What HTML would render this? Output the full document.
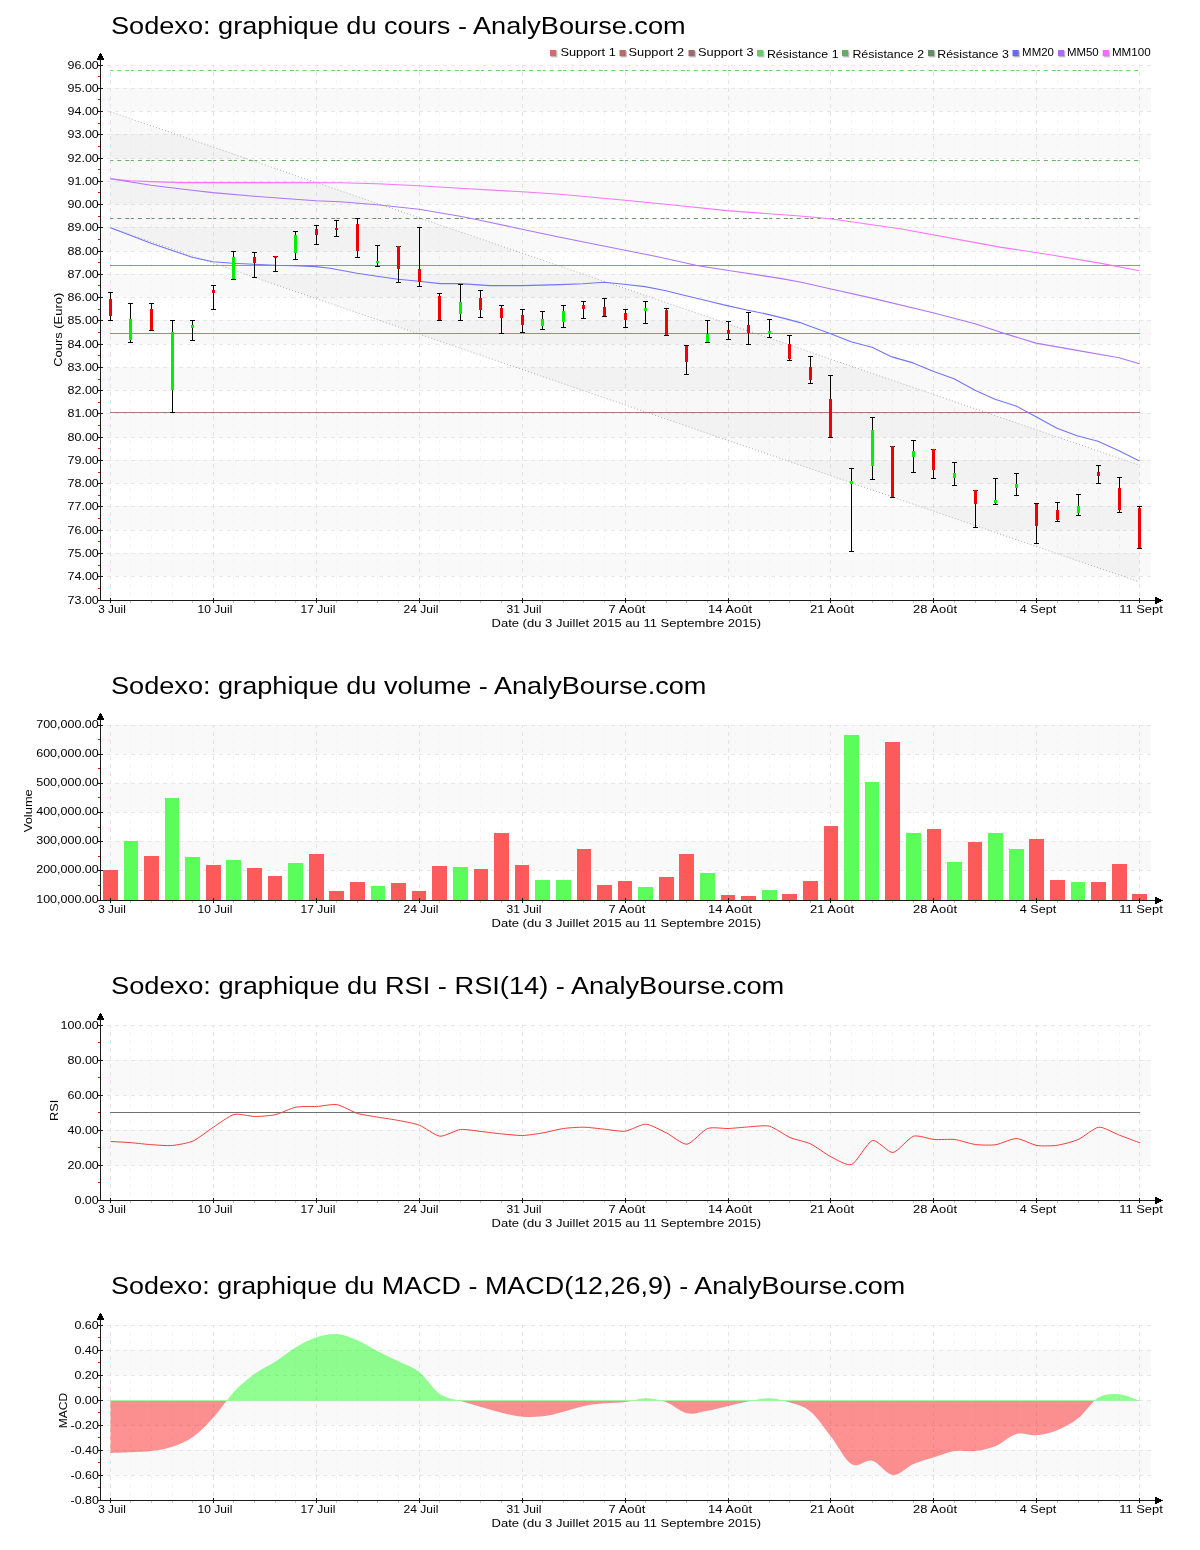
<!DOCTYPE html>
<html lang="fr"><head><meta charset="utf-8"><title>Sodexo - AnalyBourse.com</title>
<style>
html,body{margin:0;padding:0;background:#fff;}
body{width:1200px;height:1550px;overflow:hidden;font-family:"Liberation Sans",sans-serif;}
svg{display:block;will-change:transform;font-family:"Liberation Sans",sans-serif;}
</style></head><body>
<svg width="1200" height="1550" viewBox="0 0 1200 1550">
<rect x="0" y="0" width="1200" height="1550" fill="#fff"/>
<rect x="101" y="88" width="1050" height="23" fill="#f9f9f9"/>
<rect x="101" y="134" width="1050" height="24" fill="#f9f9f9"/>
<rect x="101" y="181" width="1050" height="23" fill="#f9f9f9"/>
<rect x="101" y="227" width="1050" height="24" fill="#f9f9f9"/>
<rect x="101" y="274" width="1050" height="23" fill="#f9f9f9"/>
<rect x="101" y="320" width="1050" height="24" fill="#f9f9f9"/>
<rect x="101" y="367" width="1050" height="23" fill="#f9f9f9"/>
<rect x="101" y="413" width="1050" height="24" fill="#f9f9f9"/>
<rect x="101" y="460" width="1050" height="23" fill="#f9f9f9"/>
<rect x="101" y="506" width="1050" height="24" fill="#f9f9f9"/>
<rect x="101" y="553" width="1050" height="23" fill="#f9f9f9"/>
<line x1="100" x2="1151" y1="65.5" y2="65.5" stroke="#e7e7e7" stroke-dasharray="4 4" stroke-dashoffset="1" shape-rendering="crispEdges"/>
<line x1="100" x2="1151" y1="88.5" y2="88.5" stroke="#e7e7e7" stroke-dasharray="4 4" stroke-dashoffset="1" shape-rendering="crispEdges"/>
<line x1="100" x2="1151" y1="111.5" y2="111.5" stroke="#e7e7e7" stroke-dasharray="4 4" stroke-dashoffset="1" shape-rendering="crispEdges"/>
<line x1="100" x2="1151" y1="134.5" y2="134.5" stroke="#e7e7e7" stroke-dasharray="4 4" stroke-dashoffset="1" shape-rendering="crispEdges"/>
<line x1="100" x2="1151" y1="158.5" y2="158.5" stroke="#e7e7e7" stroke-dasharray="4 4" stroke-dashoffset="1" shape-rendering="crispEdges"/>
<line x1="100" x2="1151" y1="181.5" y2="181.5" stroke="#e7e7e7" stroke-dasharray="4 4" stroke-dashoffset="1" shape-rendering="crispEdges"/>
<line x1="100" x2="1151" y1="204.5" y2="204.5" stroke="#e7e7e7" stroke-dasharray="4 4" stroke-dashoffset="1" shape-rendering="crispEdges"/>
<line x1="100" x2="1151" y1="227.5" y2="227.5" stroke="#e7e7e7" stroke-dasharray="4 4" stroke-dashoffset="1" shape-rendering="crispEdges"/>
<line x1="100" x2="1151" y1="251.5" y2="251.5" stroke="#e7e7e7" stroke-dasharray="4 4" stroke-dashoffset="1" shape-rendering="crispEdges"/>
<line x1="100" x2="1151" y1="274.5" y2="274.5" stroke="#e7e7e7" stroke-dasharray="4 4" stroke-dashoffset="1" shape-rendering="crispEdges"/>
<line x1="100" x2="1151" y1="297.5" y2="297.5" stroke="#e7e7e7" stroke-dasharray="4 4" stroke-dashoffset="1" shape-rendering="crispEdges"/>
<line x1="100" x2="1151" y1="320.5" y2="320.5" stroke="#e7e7e7" stroke-dasharray="4 4" stroke-dashoffset="1" shape-rendering="crispEdges"/>
<line x1="100" x2="1151" y1="344.5" y2="344.5" stroke="#e7e7e7" stroke-dasharray="4 4" stroke-dashoffset="1" shape-rendering="crispEdges"/>
<line x1="100" x2="1151" y1="367.5" y2="367.5" stroke="#e7e7e7" stroke-dasharray="4 4" stroke-dashoffset="1" shape-rendering="crispEdges"/>
<line x1="100" x2="1151" y1="390.5" y2="390.5" stroke="#e7e7e7" stroke-dasharray="4 4" stroke-dashoffset="1" shape-rendering="crispEdges"/>
<line x1="100" x2="1151" y1="413.5" y2="413.5" stroke="#e7e7e7" stroke-dasharray="4 4" stroke-dashoffset="1" shape-rendering="crispEdges"/>
<line x1="100" x2="1151" y1="437.5" y2="437.5" stroke="#e7e7e7" stroke-dasharray="4 4" stroke-dashoffset="1" shape-rendering="crispEdges"/>
<line x1="100" x2="1151" y1="460.5" y2="460.5" stroke="#e7e7e7" stroke-dasharray="4 4" stroke-dashoffset="1" shape-rendering="crispEdges"/>
<line x1="100" x2="1151" y1="483.5" y2="483.5" stroke="#e7e7e7" stroke-dasharray="4 4" stroke-dashoffset="1" shape-rendering="crispEdges"/>
<line x1="100" x2="1151" y1="506.5" y2="506.5" stroke="#e7e7e7" stroke-dasharray="4 4" stroke-dashoffset="1" shape-rendering="crispEdges"/>
<line x1="100" x2="1151" y1="530.5" y2="530.5" stroke="#e7e7e7" stroke-dasharray="4 4" stroke-dashoffset="1" shape-rendering="crispEdges"/>
<line x1="100" x2="1151" y1="553.5" y2="553.5" stroke="#e7e7e7" stroke-dasharray="4 4" stroke-dashoffset="1" shape-rendering="crispEdges"/>
<line x1="100" x2="1151" y1="576.5" y2="576.5" stroke="#e7e7e7" stroke-dasharray="4 4" stroke-dashoffset="1" shape-rendering="crispEdges"/>
<line x1="110.5" x2="110.5" y1="65" y2="600" stroke="#e4e4e4" stroke-dasharray="4 4" stroke-dashoffset="1" shape-rendering="crispEdges"/>
<line x1="130.5" x2="130.5" y1="65" y2="600" stroke="#f5f5f5" stroke-dasharray="4 4" stroke-dashoffset="1" shape-rendering="crispEdges"/>
<line x1="151.5" x2="151.5" y1="65" y2="600" stroke="#f5f5f5" stroke-dasharray="4 4" stroke-dashoffset="1" shape-rendering="crispEdges"/>
<line x1="172.5" x2="172.5" y1="65" y2="600" stroke="#f5f5f5" stroke-dasharray="4 4" stroke-dashoffset="1" shape-rendering="crispEdges"/>
<line x1="192.5" x2="192.5" y1="65" y2="600" stroke="#f5f5f5" stroke-dasharray="4 4" stroke-dashoffset="1" shape-rendering="crispEdges"/>
<line x1="213.5" x2="213.5" y1="65" y2="600" stroke="#e4e4e4" stroke-dasharray="4 4" stroke-dashoffset="1" shape-rendering="crispEdges"/>
<line x1="233.5" x2="233.5" y1="65" y2="600" stroke="#f5f5f5" stroke-dasharray="4 4" stroke-dashoffset="1" shape-rendering="crispEdges"/>
<line x1="254.5" x2="254.5" y1="65" y2="600" stroke="#f5f5f5" stroke-dasharray="4 4" stroke-dashoffset="1" shape-rendering="crispEdges"/>
<line x1="275.5" x2="275.5" y1="65" y2="600" stroke="#f5f5f5" stroke-dasharray="4 4" stroke-dashoffset="1" shape-rendering="crispEdges"/>
<line x1="295.5" x2="295.5" y1="65" y2="600" stroke="#f5f5f5" stroke-dasharray="4 4" stroke-dashoffset="1" shape-rendering="crispEdges"/>
<line x1="316.5" x2="316.5" y1="65" y2="600" stroke="#e4e4e4" stroke-dasharray="4 4" stroke-dashoffset="1" shape-rendering="crispEdges"/>
<line x1="336.5" x2="336.5" y1="65" y2="600" stroke="#f5f5f5" stroke-dasharray="4 4" stroke-dashoffset="1" shape-rendering="crispEdges"/>
<line x1="357.5" x2="357.5" y1="65" y2="600" stroke="#f5f5f5" stroke-dasharray="4 4" stroke-dashoffset="1" shape-rendering="crispEdges"/>
<line x1="377.5" x2="377.5" y1="65" y2="600" stroke="#f5f5f5" stroke-dasharray="4 4" stroke-dashoffset="1" shape-rendering="crispEdges"/>
<line x1="398.5" x2="398.5" y1="65" y2="600" stroke="#f5f5f5" stroke-dasharray="4 4" stroke-dashoffset="1" shape-rendering="crispEdges"/>
<line x1="419.5" x2="419.5" y1="65" y2="600" stroke="#e4e4e4" stroke-dasharray="4 4" stroke-dashoffset="1" shape-rendering="crispEdges"/>
<line x1="439.5" x2="439.5" y1="65" y2="600" stroke="#f5f5f5" stroke-dasharray="4 4" stroke-dashoffset="1" shape-rendering="crispEdges"/>
<line x1="460.5" x2="460.5" y1="65" y2="600" stroke="#f5f5f5" stroke-dasharray="4 4" stroke-dashoffset="1" shape-rendering="crispEdges"/>
<line x1="480.5" x2="480.5" y1="65" y2="600" stroke="#f5f5f5" stroke-dasharray="4 4" stroke-dashoffset="1" shape-rendering="crispEdges"/>
<line x1="501.5" x2="501.5" y1="65" y2="600" stroke="#f5f5f5" stroke-dasharray="4 4" stroke-dashoffset="1" shape-rendering="crispEdges"/>
<line x1="522.5" x2="522.5" y1="65" y2="600" stroke="#e4e4e4" stroke-dasharray="4 4" stroke-dashoffset="1" shape-rendering="crispEdges"/>
<line x1="542.5" x2="542.5" y1="65" y2="600" stroke="#f5f5f5" stroke-dasharray="4 4" stroke-dashoffset="1" shape-rendering="crispEdges"/>
<line x1="563.5" x2="563.5" y1="65" y2="600" stroke="#f5f5f5" stroke-dasharray="4 4" stroke-dashoffset="1" shape-rendering="crispEdges"/>
<line x1="583.5" x2="583.5" y1="65" y2="600" stroke="#f5f5f5" stroke-dasharray="4 4" stroke-dashoffset="1" shape-rendering="crispEdges"/>
<line x1="604.5" x2="604.5" y1="65" y2="600" stroke="#f5f5f5" stroke-dasharray="4 4" stroke-dashoffset="1" shape-rendering="crispEdges"/>
<line x1="625.5" x2="625.5" y1="65" y2="600" stroke="#e4e4e4" stroke-dasharray="4 4" stroke-dashoffset="1" shape-rendering="crispEdges"/>
<line x1="645.5" x2="645.5" y1="65" y2="600" stroke="#f5f5f5" stroke-dasharray="4 4" stroke-dashoffset="1" shape-rendering="crispEdges"/>
<line x1="666.5" x2="666.5" y1="65" y2="600" stroke="#f5f5f5" stroke-dasharray="4 4" stroke-dashoffset="1" shape-rendering="crispEdges"/>
<line x1="686.5" x2="686.5" y1="65" y2="600" stroke="#f5f5f5" stroke-dasharray="4 4" stroke-dashoffset="1" shape-rendering="crispEdges"/>
<line x1="707.5" x2="707.5" y1="65" y2="600" stroke="#f5f5f5" stroke-dasharray="4 4" stroke-dashoffset="1" shape-rendering="crispEdges"/>
<line x1="728.5" x2="728.5" y1="65" y2="600" stroke="#e4e4e4" stroke-dasharray="4 4" stroke-dashoffset="1" shape-rendering="crispEdges"/>
<line x1="748.5" x2="748.5" y1="65" y2="600" stroke="#f5f5f5" stroke-dasharray="4 4" stroke-dashoffset="1" shape-rendering="crispEdges"/>
<line x1="769.5" x2="769.5" y1="65" y2="600" stroke="#f5f5f5" stroke-dasharray="4 4" stroke-dashoffset="1" shape-rendering="crispEdges"/>
<line x1="789.5" x2="789.5" y1="65" y2="600" stroke="#f5f5f5" stroke-dasharray="4 4" stroke-dashoffset="1" shape-rendering="crispEdges"/>
<line x1="810.5" x2="810.5" y1="65" y2="600" stroke="#f5f5f5" stroke-dasharray="4 4" stroke-dashoffset="1" shape-rendering="crispEdges"/>
<line x1="830.5" x2="830.5" y1="65" y2="600" stroke="#e4e4e4" stroke-dasharray="4 4" stroke-dashoffset="1" shape-rendering="crispEdges"/>
<line x1="851.5" x2="851.5" y1="65" y2="600" stroke="#f5f5f5" stroke-dasharray="4 4" stroke-dashoffset="1" shape-rendering="crispEdges"/>
<line x1="872.5" x2="872.5" y1="65" y2="600" stroke="#f5f5f5" stroke-dasharray="4 4" stroke-dashoffset="1" shape-rendering="crispEdges"/>
<line x1="892.5" x2="892.5" y1="65" y2="600" stroke="#f5f5f5" stroke-dasharray="4 4" stroke-dashoffset="1" shape-rendering="crispEdges"/>
<line x1="913.5" x2="913.5" y1="65" y2="600" stroke="#f5f5f5" stroke-dasharray="4 4" stroke-dashoffset="1" shape-rendering="crispEdges"/>
<line x1="933.5" x2="933.5" y1="65" y2="600" stroke="#e4e4e4" stroke-dasharray="4 4" stroke-dashoffset="1" shape-rendering="crispEdges"/>
<line x1="954.5" x2="954.5" y1="65" y2="600" stroke="#f5f5f5" stroke-dasharray="4 4" stroke-dashoffset="1" shape-rendering="crispEdges"/>
<line x1="975.5" x2="975.5" y1="65" y2="600" stroke="#f5f5f5" stroke-dasharray="4 4" stroke-dashoffset="1" shape-rendering="crispEdges"/>
<line x1="995.5" x2="995.5" y1="65" y2="600" stroke="#f5f5f5" stroke-dasharray="4 4" stroke-dashoffset="1" shape-rendering="crispEdges"/>
<line x1="1016.5" x2="1016.5" y1="65" y2="600" stroke="#f5f5f5" stroke-dasharray="4 4" stroke-dashoffset="1" shape-rendering="crispEdges"/>
<line x1="1036.5" x2="1036.5" y1="65" y2="600" stroke="#e4e4e4" stroke-dasharray="4 4" stroke-dashoffset="1" shape-rendering="crispEdges"/>
<line x1="1057.5" x2="1057.5" y1="65" y2="600" stroke="#f5f5f5" stroke-dasharray="4 4" stroke-dashoffset="1" shape-rendering="crispEdges"/>
<line x1="1078.5" x2="1078.5" y1="65" y2="600" stroke="#f5f5f5" stroke-dasharray="4 4" stroke-dashoffset="1" shape-rendering="crispEdges"/>
<line x1="1098.5" x2="1098.5" y1="65" y2="600" stroke="#f5f5f5" stroke-dasharray="4 4" stroke-dashoffset="1" shape-rendering="crispEdges"/>
<line x1="1119.5" x2="1119.5" y1="65" y2="600" stroke="#f5f5f5" stroke-dasharray="4 4" stroke-dashoffset="1" shape-rendering="crispEdges"/>
<line x1="1139.5" x2="1139.5" y1="65" y2="600" stroke="#e4e4e4" stroke-dasharray="4 4" stroke-dashoffset="1" shape-rendering="crispEdges"/>
<path d="M110.5 111.8 L1139.5 465.2 L1139.5 582.0 L110.5 227.8 Z" fill="rgba(0,0,0,0.028)"/>
<line x1="110.5" y1="111.8" x2="1139.5" y2="465.2" stroke="#a4a4a4" stroke-width="0.9" stroke-dasharray="1 2.2"/>
<line x1="110.5" y1="227.8" x2="1139.5" y2="582.0" stroke="#a4a4a4" stroke-width="0.9" stroke-dasharray="1 2.2"/>
<rect x="110" y="265" width="1030" height="1" fill="#d67a7a" shape-rendering="crispEdges"/>
<rect x="110" y="333" width="1030" height="1" fill="#c27a7a" shape-rendering="crispEdges"/>
<rect x="110" y="412" width="1030" height="1" fill="#aa7a7a" shape-rendering="crispEdges"/>
<path d="M110.30 70h3v1h-3zM117.30 70h4v1h-4zM125.30 70h4v1h-4zM130.89 70h3v1h-3zM137.89 70h4v1h-4zM145.89 70h4v1h-4zM151.48 70h3v1h-3zM158.48 70h4v1h-4zM166.48 70h4v1h-4zM172.07 70h3v1h-3zM179.07 70h4v1h-4zM187.07 70h4v1h-4zM192.66 70h3v1h-3zM199.66 70h4v1h-4zM207.66 70h4v1h-4zM213.25 70h3v1h-3zM220.25 70h4v1h-4zM228.25 70h4v1h-4zM233.84 70h3v1h-3zM240.84 70h4v1h-4zM248.84 70h4v1h-4zM254.43 70h3v1h-3zM261.43 70h4v1h-4zM269.43 70h4v1h-4zM275.02 70h3v1h-3zM282.02 70h4v1h-4zM290.02 70h4v1h-4zM295.61 70h3v1h-3zM302.61 70h4v1h-4zM310.61 70h4v1h-4zM316.20 70h3v1h-3zM323.20 70h4v1h-4zM331.20 70h4v1h-4zM336.79 70h3v1h-3zM343.79 70h4v1h-4zM351.79 70h4v1h-4zM357.38 70h3v1h-3zM364.38 70h4v1h-4zM372.38 70h4v1h-4zM377.97 70h3v1h-3zM384.97 70h4v1h-4zM392.97 70h4v1h-4zM398.56 70h3v1h-3zM405.56 70h4v1h-4zM413.56 70h4v1h-4zM419.15 70h3v1h-3zM426.15 70h4v1h-4zM434.15 70h4v1h-4zM439.74 70h3v1h-3zM446.74 70h4v1h-4zM454.74 70h4v1h-4zM460.33 70h3v1h-3zM467.33 70h4v1h-4zM475.33 70h4v1h-4zM480.92 70h3v1h-3zM487.92 70h4v1h-4zM495.92 70h4v1h-4zM501.51 70h3v1h-3zM508.51 70h4v1h-4zM516.51 70h4v1h-4zM522.10 70h3v1h-3zM529.10 70h4v1h-4zM537.10 70h4v1h-4zM542.69 70h3v1h-3zM549.69 70h4v1h-4zM557.69 70h4v1h-4zM563.28 70h3v1h-3zM570.28 70h4v1h-4zM578.28 70h4v1h-4zM583.87 70h3v1h-3zM590.87 70h4v1h-4zM598.87 70h4v1h-4zM604.46 70h3v1h-3zM611.46 70h4v1h-4zM619.46 70h4v1h-4zM625.05 70h3v1h-3zM632.05 70h4v1h-4zM640.05 70h4v1h-4zM645.64 70h3v1h-3zM652.64 70h4v1h-4zM660.64 70h4v1h-4zM666.23 70h3v1h-3zM673.23 70h4v1h-4zM681.23 70h4v1h-4zM686.82 70h3v1h-3zM693.82 70h4v1h-4zM701.82 70h4v1h-4zM707.41 70h3v1h-3zM714.41 70h4v1h-4zM722.41 70h4v1h-4zM728.00 70h3v1h-3zM735.00 70h4v1h-4zM743.00 70h4v1h-4zM748.59 70h3v1h-3zM755.59 70h4v1h-4zM763.59 70h4v1h-4zM769.18 70h3v1h-3zM776.18 70h4v1h-4zM784.18 70h4v1h-4zM789.77 70h3v1h-3zM796.77 70h4v1h-4zM804.77 70h4v1h-4zM810.36 70h3v1h-3zM817.36 70h4v1h-4zM825.36 70h4v1h-4zM830.95 70h3v1h-3zM837.95 70h4v1h-4zM845.95 70h4v1h-4zM851.54 70h3v1h-3zM858.54 70h4v1h-4zM866.54 70h4v1h-4zM872.13 70h3v1h-3zM879.13 70h4v1h-4zM887.13 70h4v1h-4zM892.72 70h3v1h-3zM899.72 70h4v1h-4zM907.72 70h4v1h-4zM913.31 70h3v1h-3zM920.31 70h4v1h-4zM928.31 70h4v1h-4zM933.90 70h3v1h-3zM940.90 70h4v1h-4zM948.90 70h4v1h-4zM954.49 70h3v1h-3zM961.49 70h4v1h-4zM969.49 70h4v1h-4zM975.08 70h3v1h-3zM982.08 70h4v1h-4zM990.08 70h4v1h-4zM995.67 70h3v1h-3zM1002.67 70h4v1h-4zM1010.67 70h4v1h-4zM1016.26 70h3v1h-3zM1023.26 70h4v1h-4zM1031.26 70h4v1h-4zM1036.85 70h3v1h-3zM1043.85 70h4v1h-4zM1051.85 70h4v1h-4zM1057.44 70h3v1h-3zM1064.44 70h4v1h-4zM1072.44 70h4v1h-4zM1078.03 70h3v1h-3zM1085.03 70h4v1h-4zM1093.03 70h4v1h-4zM1098.62 70h3v1h-3zM1105.62 70h4v1h-4zM1113.62 70h4v1h-4zM1119.21 70h3v1h-3zM1126.21 70h4v1h-4zM1134.21 70h4v1h-4z" fill="#6ccf6c"/>
<path d="M110.30 160h3v1h-3zM117.30 160h4v1h-4zM125.30 160h4v1h-4zM130.89 160h3v1h-3zM137.89 160h4v1h-4zM145.89 160h4v1h-4zM151.48 160h3v1h-3zM158.48 160h4v1h-4zM166.48 160h4v1h-4zM172.07 160h3v1h-3zM179.07 160h4v1h-4zM187.07 160h4v1h-4zM192.66 160h3v1h-3zM199.66 160h4v1h-4zM207.66 160h4v1h-4zM213.25 160h3v1h-3zM220.25 160h4v1h-4zM228.25 160h4v1h-4zM233.84 160h3v1h-3zM240.84 160h4v1h-4zM248.84 160h4v1h-4zM254.43 160h3v1h-3zM261.43 160h4v1h-4zM269.43 160h4v1h-4zM275.02 160h3v1h-3zM282.02 160h4v1h-4zM290.02 160h4v1h-4zM295.61 160h3v1h-3zM302.61 160h4v1h-4zM310.61 160h4v1h-4zM316.20 160h3v1h-3zM323.20 160h4v1h-4zM331.20 160h4v1h-4zM336.79 160h3v1h-3zM343.79 160h4v1h-4zM351.79 160h4v1h-4zM357.38 160h3v1h-3zM364.38 160h4v1h-4zM372.38 160h4v1h-4zM377.97 160h3v1h-3zM384.97 160h4v1h-4zM392.97 160h4v1h-4zM398.56 160h3v1h-3zM405.56 160h4v1h-4zM413.56 160h4v1h-4zM419.15 160h3v1h-3zM426.15 160h4v1h-4zM434.15 160h4v1h-4zM439.74 160h3v1h-3zM446.74 160h4v1h-4zM454.74 160h4v1h-4zM460.33 160h3v1h-3zM467.33 160h4v1h-4zM475.33 160h4v1h-4zM480.92 160h3v1h-3zM487.92 160h4v1h-4zM495.92 160h4v1h-4zM501.51 160h3v1h-3zM508.51 160h4v1h-4zM516.51 160h4v1h-4zM522.10 160h3v1h-3zM529.10 160h4v1h-4zM537.10 160h4v1h-4zM542.69 160h3v1h-3zM549.69 160h4v1h-4zM557.69 160h4v1h-4zM563.28 160h3v1h-3zM570.28 160h4v1h-4zM578.28 160h4v1h-4zM583.87 160h3v1h-3zM590.87 160h4v1h-4zM598.87 160h4v1h-4zM604.46 160h3v1h-3zM611.46 160h4v1h-4zM619.46 160h4v1h-4zM625.05 160h3v1h-3zM632.05 160h4v1h-4zM640.05 160h4v1h-4zM645.64 160h3v1h-3zM652.64 160h4v1h-4zM660.64 160h4v1h-4zM666.23 160h3v1h-3zM673.23 160h4v1h-4zM681.23 160h4v1h-4zM686.82 160h3v1h-3zM693.82 160h4v1h-4zM701.82 160h4v1h-4zM707.41 160h3v1h-3zM714.41 160h4v1h-4zM722.41 160h4v1h-4zM728.00 160h3v1h-3zM735.00 160h4v1h-4zM743.00 160h4v1h-4zM748.59 160h3v1h-3zM755.59 160h4v1h-4zM763.59 160h4v1h-4zM769.18 160h3v1h-3zM776.18 160h4v1h-4zM784.18 160h4v1h-4zM789.77 160h3v1h-3zM796.77 160h4v1h-4zM804.77 160h4v1h-4zM810.36 160h3v1h-3zM817.36 160h4v1h-4zM825.36 160h4v1h-4zM830.95 160h3v1h-3zM837.95 160h4v1h-4zM845.95 160h4v1h-4zM851.54 160h3v1h-3zM858.54 160h4v1h-4zM866.54 160h4v1h-4zM872.13 160h3v1h-3zM879.13 160h4v1h-4zM887.13 160h4v1h-4zM892.72 160h3v1h-3zM899.72 160h4v1h-4zM907.72 160h4v1h-4zM913.31 160h3v1h-3zM920.31 160h4v1h-4zM928.31 160h4v1h-4zM933.90 160h3v1h-3zM940.90 160h4v1h-4zM948.90 160h4v1h-4zM954.49 160h3v1h-3zM961.49 160h4v1h-4zM969.49 160h4v1h-4zM975.08 160h3v1h-3zM982.08 160h4v1h-4zM990.08 160h4v1h-4zM995.67 160h3v1h-3zM1002.67 160h4v1h-4zM1010.67 160h4v1h-4zM1016.26 160h3v1h-3zM1023.26 160h4v1h-4zM1031.26 160h4v1h-4zM1036.85 160h3v1h-3zM1043.85 160h4v1h-4zM1051.85 160h4v1h-4zM1057.44 160h3v1h-3zM1064.44 160h4v1h-4zM1072.44 160h4v1h-4zM1078.03 160h3v1h-3zM1085.03 160h4v1h-4zM1093.03 160h4v1h-4zM1098.62 160h3v1h-3zM1105.62 160h4v1h-4zM1113.62 160h4v1h-4zM1119.21 160h3v1h-3zM1126.21 160h4v1h-4zM1134.21 160h4v1h-4z" fill="#6cb06c"/>
<path d="M110.30 218h3v1h-3zM117.30 218h4v1h-4zM125.30 218h4v1h-4zM130.89 218h3v1h-3zM137.89 218h4v1h-4zM145.89 218h4v1h-4zM151.48 218h3v1h-3zM158.48 218h4v1h-4zM166.48 218h4v1h-4zM172.07 218h3v1h-3zM179.07 218h4v1h-4zM187.07 218h4v1h-4zM192.66 218h3v1h-3zM199.66 218h4v1h-4zM207.66 218h4v1h-4zM213.25 218h3v1h-3zM220.25 218h4v1h-4zM228.25 218h4v1h-4zM233.84 218h3v1h-3zM240.84 218h4v1h-4zM248.84 218h4v1h-4zM254.43 218h3v1h-3zM261.43 218h4v1h-4zM269.43 218h4v1h-4zM275.02 218h3v1h-3zM282.02 218h4v1h-4zM290.02 218h4v1h-4zM295.61 218h3v1h-3zM302.61 218h4v1h-4zM310.61 218h4v1h-4zM316.20 218h3v1h-3zM323.20 218h4v1h-4zM331.20 218h4v1h-4zM336.79 218h3v1h-3zM343.79 218h4v1h-4zM351.79 218h4v1h-4zM357.38 218h3v1h-3zM364.38 218h4v1h-4zM372.38 218h4v1h-4zM377.97 218h3v1h-3zM384.97 218h4v1h-4zM392.97 218h4v1h-4zM398.56 218h3v1h-3zM405.56 218h4v1h-4zM413.56 218h4v1h-4zM419.15 218h3v1h-3zM426.15 218h4v1h-4zM434.15 218h4v1h-4zM439.74 218h3v1h-3zM446.74 218h4v1h-4zM454.74 218h4v1h-4zM460.33 218h3v1h-3zM467.33 218h4v1h-4zM475.33 218h4v1h-4zM480.92 218h3v1h-3zM487.92 218h4v1h-4zM495.92 218h4v1h-4zM501.51 218h3v1h-3zM508.51 218h4v1h-4zM516.51 218h4v1h-4zM522.10 218h3v1h-3zM529.10 218h4v1h-4zM537.10 218h4v1h-4zM542.69 218h3v1h-3zM549.69 218h4v1h-4zM557.69 218h4v1h-4zM563.28 218h3v1h-3zM570.28 218h4v1h-4zM578.28 218h4v1h-4zM583.87 218h3v1h-3zM590.87 218h4v1h-4zM598.87 218h4v1h-4zM604.46 218h3v1h-3zM611.46 218h4v1h-4zM619.46 218h4v1h-4zM625.05 218h3v1h-3zM632.05 218h4v1h-4zM640.05 218h4v1h-4zM645.64 218h3v1h-3zM652.64 218h4v1h-4zM660.64 218h4v1h-4zM666.23 218h3v1h-3zM673.23 218h4v1h-4zM681.23 218h4v1h-4zM686.82 218h3v1h-3zM693.82 218h4v1h-4zM701.82 218h4v1h-4zM707.41 218h3v1h-3zM714.41 218h4v1h-4zM722.41 218h4v1h-4zM728.00 218h3v1h-3zM735.00 218h4v1h-4zM743.00 218h4v1h-4zM748.59 218h3v1h-3zM755.59 218h4v1h-4zM763.59 218h4v1h-4zM769.18 218h3v1h-3zM776.18 218h4v1h-4zM784.18 218h4v1h-4zM789.77 218h3v1h-3zM796.77 218h4v1h-4zM804.77 218h4v1h-4zM810.36 218h3v1h-3zM817.36 218h4v1h-4zM825.36 218h4v1h-4zM830.95 218h3v1h-3zM837.95 218h4v1h-4zM845.95 218h4v1h-4zM851.54 218h3v1h-3zM858.54 218h4v1h-4zM866.54 218h4v1h-4zM872.13 218h3v1h-3zM879.13 218h4v1h-4zM887.13 218h4v1h-4zM892.72 218h3v1h-3zM899.72 218h4v1h-4zM907.72 218h4v1h-4zM913.31 218h3v1h-3zM920.31 218h4v1h-4zM928.31 218h4v1h-4zM933.90 218h3v1h-3zM940.90 218h4v1h-4zM948.90 218h4v1h-4zM954.49 218h3v1h-3zM961.49 218h4v1h-4zM969.49 218h4v1h-4zM975.08 218h3v1h-3zM982.08 218h4v1h-4zM990.08 218h4v1h-4zM995.67 218h3v1h-3zM1002.67 218h4v1h-4zM1010.67 218h4v1h-4zM1016.26 218h3v1h-3zM1023.26 218h4v1h-4zM1031.26 218h4v1h-4zM1036.85 218h3v1h-3zM1043.85 218h4v1h-4zM1051.85 218h4v1h-4zM1057.44 218h3v1h-3zM1064.44 218h4v1h-4zM1072.44 218h4v1h-4zM1078.03 218h3v1h-3zM1085.03 218h4v1h-4zM1093.03 218h4v1h-4zM1098.62 218h3v1h-3zM1105.62 218h4v1h-4zM1113.62 218h4v1h-4zM1119.21 218h3v1h-3zM1126.21 218h4v1h-4zM1134.21 218h4v1h-4z" fill="#6c946c"/>
<polyline points="110.5,178.8 130.0,180.8 151.0,181.6 180.0,182.6 340.0,182.7 377.0,183.8 419.0,185.8 460.0,188.2 522.0,191.8 560.0,194.2 625.0,200.2 680.0,205.8 727.0,210.6 800.0,216.0 830.0,218.7 900.0,228.7 1000.0,247.1 1050.0,254.7 1100.0,263.1 1139.5,270.8" fill="none" stroke="#fb74fb" stroke-width="1.1" stroke-linejoin="round"/>
<polyline points="110.5,178.8 151.0,185.2 192.0,190.2 213.0,192.6 254.0,196.2 295.0,199.2 316.0,200.8 340.0,201.8 377.0,204.8 419.0,209.2 460.0,216.2 480.0,220.2 522.0,229.2 560.0,237.2 580.0,241.2 625.0,250.2 660.0,257.2 698.0,265.7 727.0,270.2 780.0,278.4 800.0,282.0 830.0,288.7 872.0,298.1 933.0,312.7 975.0,323.7 1000.0,332.1 1036.0,343.1 1077.0,350.4 1119.0,357.7 1139.5,363.7" fill="none" stroke="#b074fb" stroke-width="1.1" stroke-linejoin="round"/>
<polyline points="110.5,227.8 151.0,243.2 192.0,257.2 213.0,261.8 233.0,263.2 254.0,264.2 275.0,265.2 295.0,265.6 316.0,266.6 330.0,268.2 357.0,273.2 377.0,276.2 398.0,279.2 419.0,281.2 440.0,283.6 460.0,283.6 490.0,285.6 522.0,285.6 560.0,284.6 583.0,283.8 604.0,282.2 624.0,284.2 645.0,286.6 666.0,290.8 686.0,295.8 707.0,300.8 727.0,305.6 748.0,310.2 769.0,314.6 789.0,319.6 800.0,322.6 810.0,326.2 830.0,333.5 851.0,341.7 872.0,347.2 892.0,356.9 913.0,362.9 933.0,371.2 954.0,378.7 975.0,390.2 995.0,399.2 1016.0,406.0 1036.0,416.7 1057.0,428.2 1077.0,435.7 1098.0,441.2 1119.0,450.7 1139.5,461.0" fill="none" stroke="#7474fb" stroke-width="1.1" stroke-linejoin="round"/>
<rect x="110" y="292" width="1" height="29" fill="#000" shape-rendering="crispEdges"/>
<rect x="108" y="292" width="5" height="1" fill="#000" shape-rendering="crispEdges"/>
<rect x="108" y="320" width="5" height="1" fill="#000" shape-rendering="crispEdges"/>
<rect x="109" y="299" width="3" height="17" fill="#f00000" shape-rendering="crispEdges"/>
<rect x="130" y="303" width="1" height="40" fill="#000" shape-rendering="crispEdges"/>
<rect x="128" y="303" width="5" height="1" fill="#000" shape-rendering="crispEdges"/>
<rect x="128" y="342" width="5" height="1" fill="#000" shape-rendering="crispEdges"/>
<rect x="129" y="319" width="3" height="21" fill="#00f000" shape-rendering="crispEdges"/>
<rect x="151" y="303" width="1" height="28" fill="#000" shape-rendering="crispEdges"/>
<rect x="149" y="303" width="5" height="1" fill="#000" shape-rendering="crispEdges"/>
<rect x="149" y="330" width="5" height="1" fill="#000" shape-rendering="crispEdges"/>
<rect x="150" y="309" width="3" height="21" fill="#f00000" shape-rendering="crispEdges"/>
<rect x="172" y="320" width="1" height="93" fill="#000" shape-rendering="crispEdges"/>
<rect x="170" y="320" width="5" height="1" fill="#000" shape-rendering="crispEdges"/>
<rect x="170" y="412" width="5" height="1" fill="#000" shape-rendering="crispEdges"/>
<rect x="171" y="332" width="3" height="58" fill="#00f000" shape-rendering="crispEdges"/>
<rect x="192" y="320" width="1" height="21" fill="#000" shape-rendering="crispEdges"/>
<rect x="190" y="320" width="5" height="1" fill="#000" shape-rendering="crispEdges"/>
<rect x="190" y="340" width="5" height="1" fill="#000" shape-rendering="crispEdges"/>
<rect x="191" y="325" width="3" height="3" fill="#00f000" shape-rendering="crispEdges"/>
<rect x="213" y="285" width="1" height="25" fill="#000" shape-rendering="crispEdges"/>
<rect x="211" y="285" width="5" height="1" fill="#000" shape-rendering="crispEdges"/>
<rect x="211" y="309" width="5" height="1" fill="#000" shape-rendering="crispEdges"/>
<rect x="212" y="290" width="3" height="3" fill="#f00000" shape-rendering="crispEdges"/>
<rect x="233" y="251" width="1" height="29" fill="#000" shape-rendering="crispEdges"/>
<rect x="231" y="251" width="5" height="1" fill="#000" shape-rendering="crispEdges"/>
<rect x="231" y="279" width="5" height="1" fill="#000" shape-rendering="crispEdges"/>
<rect x="232" y="257" width="3" height="22" fill="#00f000" shape-rendering="crispEdges"/>
<rect x="254" y="252" width="1" height="26" fill="#000" shape-rendering="crispEdges"/>
<rect x="252" y="252" width="5" height="1" fill="#000" shape-rendering="crispEdges"/>
<rect x="252" y="277" width="5" height="1" fill="#000" shape-rendering="crispEdges"/>
<rect x="253" y="257" width="3" height="6" fill="#f00000" shape-rendering="crispEdges"/>
<rect x="275" y="256" width="1" height="16" fill="#000" shape-rendering="crispEdges"/>
<rect x="273" y="256" width="5" height="1" fill="#000" shape-rendering="crispEdges"/>
<rect x="273" y="271" width="5" height="1" fill="#000" shape-rendering="crispEdges"/>
<rect x="274" y="256" width="3" height="2" fill="#f00000" shape-rendering="crispEdges"/>
<rect x="295" y="231" width="1" height="29" fill="#000" shape-rendering="crispEdges"/>
<rect x="293" y="231" width="5" height="1" fill="#000" shape-rendering="crispEdges"/>
<rect x="293" y="259" width="5" height="1" fill="#000" shape-rendering="crispEdges"/>
<rect x="294" y="235" width="3" height="18" fill="#00f000" shape-rendering="crispEdges"/>
<rect x="316" y="225" width="1" height="20" fill="#000" shape-rendering="crispEdges"/>
<rect x="314" y="225" width="5" height="1" fill="#000" shape-rendering="crispEdges"/>
<rect x="314" y="244" width="5" height="1" fill="#000" shape-rendering="crispEdges"/>
<rect x="315" y="229" width="3" height="6" fill="#f00000" shape-rendering="crispEdges"/>
<rect x="336" y="220" width="1" height="17" fill="#000" shape-rendering="crispEdges"/>
<rect x="334" y="220" width="5" height="1" fill="#000" shape-rendering="crispEdges"/>
<rect x="334" y="236" width="5" height="1" fill="#000" shape-rendering="crispEdges"/>
<rect x="335" y="228" width="3" height="2" fill="#f00000" shape-rendering="crispEdges"/>
<rect x="357" y="218" width="1" height="40" fill="#000" shape-rendering="crispEdges"/>
<rect x="355" y="218" width="5" height="1" fill="#000" shape-rendering="crispEdges"/>
<rect x="355" y="257" width="5" height="1" fill="#000" shape-rendering="crispEdges"/>
<rect x="356" y="224" width="3" height="27" fill="#f00000" shape-rendering="crispEdges"/>
<rect x="377" y="245" width="1" height="22" fill="#000" shape-rendering="crispEdges"/>
<rect x="375" y="245" width="5" height="1" fill="#000" shape-rendering="crispEdges"/>
<rect x="375" y="266" width="5" height="1" fill="#000" shape-rendering="crispEdges"/>
<rect x="376" y="261" width="3" height="2" fill="#00f000" shape-rendering="crispEdges"/>
<rect x="398" y="246" width="1" height="37" fill="#000" shape-rendering="crispEdges"/>
<rect x="396" y="246" width="5" height="1" fill="#000" shape-rendering="crispEdges"/>
<rect x="396" y="282" width="5" height="1" fill="#000" shape-rendering="crispEdges"/>
<rect x="397" y="246" width="3" height="23" fill="#f00000" shape-rendering="crispEdges"/>
<rect x="419" y="227" width="1" height="60" fill="#000" shape-rendering="crispEdges"/>
<rect x="417" y="227" width="5" height="1" fill="#000" shape-rendering="crispEdges"/>
<rect x="417" y="286" width="5" height="1" fill="#000" shape-rendering="crispEdges"/>
<rect x="418" y="269" width="3" height="13" fill="#f00000" shape-rendering="crispEdges"/>
<rect x="439" y="293" width="1" height="28" fill="#000" shape-rendering="crispEdges"/>
<rect x="437" y="293" width="5" height="1" fill="#000" shape-rendering="crispEdges"/>
<rect x="437" y="320" width="5" height="1" fill="#000" shape-rendering="crispEdges"/>
<rect x="438" y="296" width="3" height="24" fill="#f00000" shape-rendering="crispEdges"/>
<rect x="460" y="284" width="1" height="37" fill="#000" shape-rendering="crispEdges"/>
<rect x="458" y="284" width="5" height="1" fill="#000" shape-rendering="crispEdges"/>
<rect x="458" y="320" width="5" height="1" fill="#000" shape-rendering="crispEdges"/>
<rect x="459" y="302" width="3" height="12" fill="#00f000" shape-rendering="crispEdges"/>
<rect x="480" y="290" width="1" height="28" fill="#000" shape-rendering="crispEdges"/>
<rect x="478" y="290" width="5" height="1" fill="#000" shape-rendering="crispEdges"/>
<rect x="478" y="317" width="5" height="1" fill="#000" shape-rendering="crispEdges"/>
<rect x="479" y="298" width="3" height="12" fill="#f00000" shape-rendering="crispEdges"/>
<rect x="501" y="305" width="1" height="29" fill="#000" shape-rendering="crispEdges"/>
<rect x="499" y="305" width="5" height="1" fill="#000" shape-rendering="crispEdges"/>
<rect x="499" y="333" width="5" height="1" fill="#000" shape-rendering="crispEdges"/>
<rect x="500" y="308" width="3" height="10" fill="#f00000" shape-rendering="crispEdges"/>
<rect x="522" y="309" width="1" height="24" fill="#000" shape-rendering="crispEdges"/>
<rect x="520" y="309" width="5" height="1" fill="#000" shape-rendering="crispEdges"/>
<rect x="520" y="332" width="5" height="1" fill="#000" shape-rendering="crispEdges"/>
<rect x="521" y="315" width="3" height="10" fill="#f00000" shape-rendering="crispEdges"/>
<rect x="542" y="311" width="1" height="19" fill="#000" shape-rendering="crispEdges"/>
<rect x="540" y="311" width="5" height="1" fill="#000" shape-rendering="crispEdges"/>
<rect x="540" y="329" width="5" height="1" fill="#000" shape-rendering="crispEdges"/>
<rect x="541" y="319" width="3" height="7" fill="#00f000" shape-rendering="crispEdges"/>
<rect x="563" y="305" width="1" height="23" fill="#000" shape-rendering="crispEdges"/>
<rect x="561" y="305" width="5" height="1" fill="#000" shape-rendering="crispEdges"/>
<rect x="561" y="327" width="5" height="1" fill="#000" shape-rendering="crispEdges"/>
<rect x="562" y="311" width="3" height="11" fill="#00f000" shape-rendering="crispEdges"/>
<rect x="583" y="301" width="1" height="18" fill="#000" shape-rendering="crispEdges"/>
<rect x="581" y="301" width="5" height="1" fill="#000" shape-rendering="crispEdges"/>
<rect x="581" y="318" width="5" height="1" fill="#000" shape-rendering="crispEdges"/>
<rect x="582" y="305" width="3" height="4" fill="#f00000" shape-rendering="crispEdges"/>
<rect x="604" y="298" width="1" height="19" fill="#000" shape-rendering="crispEdges"/>
<rect x="602" y="298" width="5" height="1" fill="#000" shape-rendering="crispEdges"/>
<rect x="602" y="316" width="5" height="1" fill="#000" shape-rendering="crispEdges"/>
<rect x="603" y="307" width="3" height="9" fill="#f00000" shape-rendering="crispEdges"/>
<rect x="625" y="309" width="1" height="19" fill="#000" shape-rendering="crispEdges"/>
<rect x="623" y="309" width="5" height="1" fill="#000" shape-rendering="crispEdges"/>
<rect x="623" y="327" width="5" height="1" fill="#000" shape-rendering="crispEdges"/>
<rect x="624" y="313" width="3" height="7" fill="#f00000" shape-rendering="crispEdges"/>
<rect x="645" y="301" width="1" height="23" fill="#000" shape-rendering="crispEdges"/>
<rect x="643" y="301" width="5" height="1" fill="#000" shape-rendering="crispEdges"/>
<rect x="643" y="323" width="5" height="1" fill="#000" shape-rendering="crispEdges"/>
<rect x="644" y="308" width="3" height="3" fill="#00f000" shape-rendering="crispEdges"/>
<rect x="666" y="308" width="1" height="28" fill="#000" shape-rendering="crispEdges"/>
<rect x="664" y="308" width="5" height="1" fill="#000" shape-rendering="crispEdges"/>
<rect x="664" y="335" width="5" height="1" fill="#000" shape-rendering="crispEdges"/>
<rect x="665" y="310" width="3" height="25" fill="#f00000" shape-rendering="crispEdges"/>
<rect x="686" y="345" width="1" height="30" fill="#000" shape-rendering="crispEdges"/>
<rect x="684" y="345" width="5" height="1" fill="#000" shape-rendering="crispEdges"/>
<rect x="684" y="374" width="5" height="1" fill="#000" shape-rendering="crispEdges"/>
<rect x="685" y="346" width="3" height="16" fill="#f00000" shape-rendering="crispEdges"/>
<rect x="707" y="320" width="1" height="23" fill="#000" shape-rendering="crispEdges"/>
<rect x="705" y="320" width="5" height="1" fill="#000" shape-rendering="crispEdges"/>
<rect x="705" y="342" width="5" height="1" fill="#000" shape-rendering="crispEdges"/>
<rect x="706" y="334" width="3" height="8" fill="#00f000" shape-rendering="crispEdges"/>
<rect x="728" y="321" width="1" height="19" fill="#000" shape-rendering="crispEdges"/>
<rect x="726" y="321" width="5" height="1" fill="#000" shape-rendering="crispEdges"/>
<rect x="726" y="339" width="5" height="1" fill="#000" shape-rendering="crispEdges"/>
<rect x="727" y="330" width="3" height="4" fill="#f00000" shape-rendering="crispEdges"/>
<rect x="748" y="312" width="1" height="33" fill="#000" shape-rendering="crispEdges"/>
<rect x="746" y="312" width="5" height="1" fill="#000" shape-rendering="crispEdges"/>
<rect x="746" y="344" width="5" height="1" fill="#000" shape-rendering="crispEdges"/>
<rect x="747" y="325" width="3" height="8" fill="#f00000" shape-rendering="crispEdges"/>
<rect x="769" y="319" width="1" height="19" fill="#000" shape-rendering="crispEdges"/>
<rect x="767" y="319" width="5" height="1" fill="#000" shape-rendering="crispEdges"/>
<rect x="767" y="337" width="5" height="1" fill="#000" shape-rendering="crispEdges"/>
<rect x="768" y="331" width="3" height="3" fill="#00f000" shape-rendering="crispEdges"/>
<rect x="789" y="335" width="1" height="26" fill="#000" shape-rendering="crispEdges"/>
<rect x="787" y="335" width="5" height="1" fill="#000" shape-rendering="crispEdges"/>
<rect x="787" y="360" width="5" height="1" fill="#000" shape-rendering="crispEdges"/>
<rect x="788" y="344" width="3" height="15" fill="#f00000" shape-rendering="crispEdges"/>
<rect x="810" y="356" width="1" height="28" fill="#000" shape-rendering="crispEdges"/>
<rect x="808" y="356" width="5" height="1" fill="#000" shape-rendering="crispEdges"/>
<rect x="808" y="383" width="5" height="1" fill="#000" shape-rendering="crispEdges"/>
<rect x="809" y="367" width="3" height="13" fill="#f00000" shape-rendering="crispEdges"/>
<rect x="830" y="375" width="1" height="63" fill="#000" shape-rendering="crispEdges"/>
<rect x="828" y="375" width="5" height="1" fill="#000" shape-rendering="crispEdges"/>
<rect x="828" y="437" width="5" height="1" fill="#000" shape-rendering="crispEdges"/>
<rect x="829" y="399" width="3" height="38" fill="#f00000" shape-rendering="crispEdges"/>
<rect x="851" y="468" width="1" height="84" fill="#000" shape-rendering="crispEdges"/>
<rect x="849" y="468" width="5" height="1" fill="#000" shape-rendering="crispEdges"/>
<rect x="849" y="551" width="5" height="1" fill="#000" shape-rendering="crispEdges"/>
<rect x="850" y="481" width="3" height="3" fill="#00f000" shape-rendering="crispEdges"/>
<rect x="872" y="417" width="1" height="63" fill="#000" shape-rendering="crispEdges"/>
<rect x="870" y="417" width="5" height="1" fill="#000" shape-rendering="crispEdges"/>
<rect x="870" y="479" width="5" height="1" fill="#000" shape-rendering="crispEdges"/>
<rect x="871" y="430" width="3" height="36" fill="#00f000" shape-rendering="crispEdges"/>
<rect x="892" y="446" width="1" height="52" fill="#000" shape-rendering="crispEdges"/>
<rect x="890" y="446" width="5" height="1" fill="#000" shape-rendering="crispEdges"/>
<rect x="890" y="497" width="5" height="1" fill="#000" shape-rendering="crispEdges"/>
<rect x="891" y="446" width="3" height="51" fill="#f00000" shape-rendering="crispEdges"/>
<rect x="913" y="440" width="1" height="33" fill="#000" shape-rendering="crispEdges"/>
<rect x="911" y="440" width="5" height="1" fill="#000" shape-rendering="crispEdges"/>
<rect x="911" y="472" width="5" height="1" fill="#000" shape-rendering="crispEdges"/>
<rect x="912" y="451" width="3" height="6" fill="#00f000" shape-rendering="crispEdges"/>
<rect x="933" y="449" width="1" height="30" fill="#000" shape-rendering="crispEdges"/>
<rect x="931" y="449" width="5" height="1" fill="#000" shape-rendering="crispEdges"/>
<rect x="931" y="478" width="5" height="1" fill="#000" shape-rendering="crispEdges"/>
<rect x="932" y="449" width="3" height="21" fill="#f00000" shape-rendering="crispEdges"/>
<rect x="954" y="462" width="1" height="24" fill="#000" shape-rendering="crispEdges"/>
<rect x="952" y="462" width="5" height="1" fill="#000" shape-rendering="crispEdges"/>
<rect x="952" y="485" width="5" height="1" fill="#000" shape-rendering="crispEdges"/>
<rect x="953" y="473" width="3" height="5" fill="#00f000" shape-rendering="crispEdges"/>
<rect x="975" y="490" width="1" height="38" fill="#000" shape-rendering="crispEdges"/>
<rect x="973" y="490" width="5" height="1" fill="#000" shape-rendering="crispEdges"/>
<rect x="973" y="527" width="5" height="1" fill="#000" shape-rendering="crispEdges"/>
<rect x="974" y="490" width="3" height="14" fill="#f00000" shape-rendering="crispEdges"/>
<rect x="995" y="478" width="1" height="27" fill="#000" shape-rendering="crispEdges"/>
<rect x="993" y="478" width="5" height="1" fill="#000" shape-rendering="crispEdges"/>
<rect x="993" y="504" width="5" height="1" fill="#000" shape-rendering="crispEdges"/>
<rect x="994" y="500" width="3" height="3" fill="#00f000" shape-rendering="crispEdges"/>
<rect x="1016" y="473" width="1" height="23" fill="#000" shape-rendering="crispEdges"/>
<rect x="1014" y="473" width="5" height="1" fill="#000" shape-rendering="crispEdges"/>
<rect x="1014" y="495" width="5" height="1" fill="#000" shape-rendering="crispEdges"/>
<rect x="1015" y="484" width="3" height="4" fill="#00f000" shape-rendering="crispEdges"/>
<rect x="1036" y="503" width="1" height="41" fill="#000" shape-rendering="crispEdges"/>
<rect x="1034" y="503" width="5" height="1" fill="#000" shape-rendering="crispEdges"/>
<rect x="1034" y="543" width="5" height="1" fill="#000" shape-rendering="crispEdges"/>
<rect x="1035" y="504" width="3" height="22" fill="#f00000" shape-rendering="crispEdges"/>
<rect x="1057" y="502" width="1" height="20" fill="#000" shape-rendering="crispEdges"/>
<rect x="1055" y="502" width="5" height="1" fill="#000" shape-rendering="crispEdges"/>
<rect x="1055" y="521" width="5" height="1" fill="#000" shape-rendering="crispEdges"/>
<rect x="1056" y="510" width="3" height="10" fill="#f00000" shape-rendering="crispEdges"/>
<rect x="1078" y="494" width="1" height="22" fill="#000" shape-rendering="crispEdges"/>
<rect x="1076" y="494" width="5" height="1" fill="#000" shape-rendering="crispEdges"/>
<rect x="1076" y="515" width="5" height="1" fill="#000" shape-rendering="crispEdges"/>
<rect x="1077" y="506" width="3" height="7" fill="#00f000" shape-rendering="crispEdges"/>
<rect x="1098" y="465" width="1" height="19" fill="#000" shape-rendering="crispEdges"/>
<rect x="1096" y="465" width="5" height="1" fill="#000" shape-rendering="crispEdges"/>
<rect x="1096" y="483" width="5" height="1" fill="#000" shape-rendering="crispEdges"/>
<rect x="1097" y="472" width="3" height="4" fill="#f00000" shape-rendering="crispEdges"/>
<rect x="1119" y="477" width="1" height="36" fill="#000" shape-rendering="crispEdges"/>
<rect x="1117" y="477" width="5" height="1" fill="#000" shape-rendering="crispEdges"/>
<rect x="1117" y="512" width="5" height="1" fill="#000" shape-rendering="crispEdges"/>
<rect x="1118" y="488" width="3" height="22" fill="#f00000" shape-rendering="crispEdges"/>
<rect x="1139" y="506" width="1" height="43" fill="#000" shape-rendering="crispEdges"/>
<rect x="1137" y="506" width="5" height="1" fill="#000" shape-rendering="crispEdges"/>
<rect x="1137" y="548" width="5" height="1" fill="#000" shape-rendering="crispEdges"/>
<rect x="1138" y="508" width="3" height="40" fill="#f00000" shape-rendering="crispEdges"/>
<rect x="100" y="60" width="1" height="541" fill="#1a1a1a" shape-rendering="crispEdges"/>
<path d="M100 53h1v1h1v2h1v2h1v2h-7v-2h1v-2h1v-2h1z" fill="#000" shape-rendering="crispEdges"/>
<rect x="100" y="600" width="1063" height="1" fill="#1a1a1a" shape-rendering="crispEdges"/>
<path d="M1162 600v1h-1v1h-2v1h-2v1h-2v-7h2v1h2v1h2v1h1z" fill="#000" shape-rendering="crispEdges"/>
<rect x="98" y="65" width="5" height="1" fill="#1a1a1a" shape-rendering="crispEdges"/>
<rect x="98" y="76" width="2" height="1" fill="#ff0000" shape-rendering="crispEdges"/>
<rect x="98" y="88" width="5" height="1" fill="#1a1a1a" shape-rendering="crispEdges"/>
<rect x="98" y="99" width="2" height="1" fill="#ff0000" shape-rendering="crispEdges"/>
<rect x="98" y="111" width="5" height="1" fill="#1a1a1a" shape-rendering="crispEdges"/>
<rect x="98" y="123" width="2" height="1" fill="#ff0000" shape-rendering="crispEdges"/>
<rect x="98" y="134" width="5" height="1" fill="#1a1a1a" shape-rendering="crispEdges"/>
<rect x="98" y="146" width="2" height="1" fill="#ff0000" shape-rendering="crispEdges"/>
<rect x="98" y="158" width="5" height="1" fill="#1a1a1a" shape-rendering="crispEdges"/>
<rect x="98" y="169" width="2" height="1" fill="#ff0000" shape-rendering="crispEdges"/>
<rect x="98" y="181" width="5" height="1" fill="#1a1a1a" shape-rendering="crispEdges"/>
<rect x="98" y="192" width="2" height="1" fill="#ff0000" shape-rendering="crispEdges"/>
<rect x="98" y="204" width="5" height="1" fill="#1a1a1a" shape-rendering="crispEdges"/>
<rect x="98" y="216" width="2" height="1" fill="#ff0000" shape-rendering="crispEdges"/>
<rect x="98" y="227" width="5" height="1" fill="#1a1a1a" shape-rendering="crispEdges"/>
<rect x="98" y="239" width="2" height="1" fill="#ff0000" shape-rendering="crispEdges"/>
<rect x="98" y="251" width="5" height="1" fill="#1a1a1a" shape-rendering="crispEdges"/>
<rect x="98" y="262" width="2" height="1" fill="#ff0000" shape-rendering="crispEdges"/>
<rect x="98" y="274" width="5" height="1" fill="#1a1a1a" shape-rendering="crispEdges"/>
<rect x="98" y="285" width="2" height="1" fill="#ff0000" shape-rendering="crispEdges"/>
<rect x="98" y="297" width="5" height="1" fill="#1a1a1a" shape-rendering="crispEdges"/>
<rect x="98" y="309" width="2" height="1" fill="#ff0000" shape-rendering="crispEdges"/>
<rect x="98" y="320" width="5" height="1" fill="#1a1a1a" shape-rendering="crispEdges"/>
<rect x="98" y="332" width="2" height="1" fill="#ff0000" shape-rendering="crispEdges"/>
<rect x="98" y="344" width="5" height="1" fill="#1a1a1a" shape-rendering="crispEdges"/>
<rect x="98" y="355" width="2" height="1" fill="#ff0000" shape-rendering="crispEdges"/>
<rect x="98" y="367" width="5" height="1" fill="#1a1a1a" shape-rendering="crispEdges"/>
<rect x="98" y="379" width="2" height="1" fill="#ff0000" shape-rendering="crispEdges"/>
<rect x="98" y="390" width="5" height="1" fill="#1a1a1a" shape-rendering="crispEdges"/>
<rect x="98" y="402" width="2" height="1" fill="#ff0000" shape-rendering="crispEdges"/>
<rect x="98" y="413" width="5" height="1" fill="#1a1a1a" shape-rendering="crispEdges"/>
<rect x="98" y="425" width="2" height="1" fill="#ff0000" shape-rendering="crispEdges"/>
<rect x="98" y="437" width="5" height="1" fill="#1a1a1a" shape-rendering="crispEdges"/>
<rect x="98" y="448" width="2" height="1" fill="#ff0000" shape-rendering="crispEdges"/>
<rect x="98" y="460" width="5" height="1" fill="#1a1a1a" shape-rendering="crispEdges"/>
<rect x="98" y="472" width="2" height="1" fill="#ff0000" shape-rendering="crispEdges"/>
<rect x="98" y="483" width="5" height="1" fill="#1a1a1a" shape-rendering="crispEdges"/>
<rect x="98" y="495" width="2" height="1" fill="#ff0000" shape-rendering="crispEdges"/>
<rect x="98" y="506" width="5" height="1" fill="#1a1a1a" shape-rendering="crispEdges"/>
<rect x="98" y="518" width="2" height="1" fill="#ff0000" shape-rendering="crispEdges"/>
<rect x="98" y="530" width="5" height="1" fill="#1a1a1a" shape-rendering="crispEdges"/>
<rect x="98" y="541" width="2" height="1" fill="#ff0000" shape-rendering="crispEdges"/>
<rect x="98" y="553" width="5" height="1" fill="#1a1a1a" shape-rendering="crispEdges"/>
<rect x="98" y="565" width="2" height="1" fill="#ff0000" shape-rendering="crispEdges"/>
<rect x="98" y="576" width="5" height="1" fill="#1a1a1a" shape-rendering="crispEdges"/>
<rect x="98" y="588" width="2" height="1" fill="#ff0000" shape-rendering="crispEdges"/>
<rect x="98" y="600" width="5" height="1" fill="#1a1a1a" shape-rendering="crispEdges"/>
<rect x="110" y="598" width="1" height="5" fill="#1a1a1a" shape-rendering="crispEdges"/>
<rect x="130" y="601" width="1" height="2" fill="#c4c4c4" shape-rendering="crispEdges"/>
<rect x="151" y="601" width="1" height="2" fill="#c4c4c4" shape-rendering="crispEdges"/>
<rect x="172" y="601" width="1" height="2" fill="#c4c4c4" shape-rendering="crispEdges"/>
<rect x="192" y="601" width="1" height="2" fill="#c4c4c4" shape-rendering="crispEdges"/>
<rect x="213" y="598" width="1" height="5" fill="#1a1a1a" shape-rendering="crispEdges"/>
<rect x="233" y="601" width="1" height="2" fill="#c4c4c4" shape-rendering="crispEdges"/>
<rect x="254" y="601" width="1" height="2" fill="#c4c4c4" shape-rendering="crispEdges"/>
<rect x="275" y="601" width="1" height="2" fill="#c4c4c4" shape-rendering="crispEdges"/>
<rect x="295" y="601" width="1" height="2" fill="#c4c4c4" shape-rendering="crispEdges"/>
<rect x="316" y="598" width="1" height="5" fill="#1a1a1a" shape-rendering="crispEdges"/>
<rect x="336" y="601" width="1" height="2" fill="#c4c4c4" shape-rendering="crispEdges"/>
<rect x="357" y="601" width="1" height="2" fill="#c4c4c4" shape-rendering="crispEdges"/>
<rect x="377" y="601" width="1" height="2" fill="#c4c4c4" shape-rendering="crispEdges"/>
<rect x="398" y="601" width="1" height="2" fill="#c4c4c4" shape-rendering="crispEdges"/>
<rect x="419" y="598" width="1" height="5" fill="#1a1a1a" shape-rendering="crispEdges"/>
<rect x="439" y="601" width="1" height="2" fill="#c4c4c4" shape-rendering="crispEdges"/>
<rect x="460" y="601" width="1" height="2" fill="#c4c4c4" shape-rendering="crispEdges"/>
<rect x="480" y="601" width="1" height="2" fill="#c4c4c4" shape-rendering="crispEdges"/>
<rect x="501" y="601" width="1" height="2" fill="#c4c4c4" shape-rendering="crispEdges"/>
<rect x="522" y="598" width="1" height="5" fill="#1a1a1a" shape-rendering="crispEdges"/>
<rect x="542" y="601" width="1" height="2" fill="#c4c4c4" shape-rendering="crispEdges"/>
<rect x="563" y="601" width="1" height="2" fill="#c4c4c4" shape-rendering="crispEdges"/>
<rect x="583" y="601" width="1" height="2" fill="#c4c4c4" shape-rendering="crispEdges"/>
<rect x="604" y="601" width="1" height="2" fill="#c4c4c4" shape-rendering="crispEdges"/>
<rect x="625" y="598" width="1" height="5" fill="#1a1a1a" shape-rendering="crispEdges"/>
<rect x="645" y="601" width="1" height="2" fill="#c4c4c4" shape-rendering="crispEdges"/>
<rect x="666" y="601" width="1" height="2" fill="#c4c4c4" shape-rendering="crispEdges"/>
<rect x="686" y="601" width="1" height="2" fill="#c4c4c4" shape-rendering="crispEdges"/>
<rect x="707" y="601" width="1" height="2" fill="#c4c4c4" shape-rendering="crispEdges"/>
<rect x="728" y="598" width="1" height="5" fill="#1a1a1a" shape-rendering="crispEdges"/>
<rect x="748" y="601" width="1" height="2" fill="#c4c4c4" shape-rendering="crispEdges"/>
<rect x="769" y="601" width="1" height="2" fill="#c4c4c4" shape-rendering="crispEdges"/>
<rect x="789" y="601" width="1" height="2" fill="#c4c4c4" shape-rendering="crispEdges"/>
<rect x="810" y="601" width="1" height="2" fill="#c4c4c4" shape-rendering="crispEdges"/>
<rect x="830" y="598" width="1" height="5" fill="#1a1a1a" shape-rendering="crispEdges"/>
<rect x="851" y="601" width="1" height="2" fill="#c4c4c4" shape-rendering="crispEdges"/>
<rect x="872" y="601" width="1" height="2" fill="#c4c4c4" shape-rendering="crispEdges"/>
<rect x="892" y="601" width="1" height="2" fill="#c4c4c4" shape-rendering="crispEdges"/>
<rect x="913" y="601" width="1" height="2" fill="#c4c4c4" shape-rendering="crispEdges"/>
<rect x="933" y="598" width="1" height="5" fill="#1a1a1a" shape-rendering="crispEdges"/>
<rect x="954" y="601" width="1" height="2" fill="#c4c4c4" shape-rendering="crispEdges"/>
<rect x="975" y="601" width="1" height="2" fill="#c4c4c4" shape-rendering="crispEdges"/>
<rect x="995" y="601" width="1" height="2" fill="#c4c4c4" shape-rendering="crispEdges"/>
<rect x="1016" y="601" width="1" height="2" fill="#c4c4c4" shape-rendering="crispEdges"/>
<rect x="1036" y="598" width="1" height="5" fill="#1a1a1a" shape-rendering="crispEdges"/>
<rect x="1057" y="601" width="1" height="2" fill="#c4c4c4" shape-rendering="crispEdges"/>
<rect x="1078" y="601" width="1" height="2" fill="#c4c4c4" shape-rendering="crispEdges"/>
<rect x="1098" y="601" width="1" height="2" fill="#c4c4c4" shape-rendering="crispEdges"/>
<rect x="1119" y="601" width="1" height="2" fill="#c4c4c4" shape-rendering="crispEdges"/>
<rect x="1139" y="598" width="1" height="5" fill="#1a1a1a" shape-rendering="crispEdges"/>
<text x="98.80" y="69.40" font-size="11.6" text-anchor="end" textLength="31.31" lengthAdjust="spacingAndGlyphs" fill="#000">96.00</text>
<text x="98.80" y="92.40" font-size="11.6" text-anchor="end" textLength="31.31" lengthAdjust="spacingAndGlyphs" fill="#000">95.00</text>
<text x="98.80" y="115.40" font-size="11.6" text-anchor="end" textLength="31.31" lengthAdjust="spacingAndGlyphs" fill="#000">94.00</text>
<text x="98.80" y="138.40" font-size="11.6" text-anchor="end" textLength="31.31" lengthAdjust="spacingAndGlyphs" fill="#000">93.00</text>
<text x="98.80" y="162.40" font-size="11.6" text-anchor="end" textLength="31.31" lengthAdjust="spacingAndGlyphs" fill="#000">92.00</text>
<text x="98.80" y="185.40" font-size="11.6" text-anchor="end" textLength="31.31" lengthAdjust="spacingAndGlyphs" fill="#000">91.00</text>
<text x="98.80" y="208.40" font-size="11.6" text-anchor="end" textLength="31.31" lengthAdjust="spacingAndGlyphs" fill="#000">90.00</text>
<text x="98.80" y="231.40" font-size="11.6" text-anchor="end" textLength="31.31" lengthAdjust="spacingAndGlyphs" fill="#000">89.00</text>
<text x="98.80" y="255.40" font-size="11.6" text-anchor="end" textLength="31.31" lengthAdjust="spacingAndGlyphs" fill="#000">88.00</text>
<text x="98.80" y="278.40" font-size="11.6" text-anchor="end" textLength="31.31" lengthAdjust="spacingAndGlyphs" fill="#000">87.00</text>
<text x="98.80" y="301.40" font-size="11.6" text-anchor="end" textLength="31.31" lengthAdjust="spacingAndGlyphs" fill="#000">86.00</text>
<text x="98.80" y="324.40" font-size="11.6" text-anchor="end" textLength="31.31" lengthAdjust="spacingAndGlyphs" fill="#000">85.00</text>
<text x="98.80" y="348.40" font-size="11.6" text-anchor="end" textLength="31.31" lengthAdjust="spacingAndGlyphs" fill="#000">84.00</text>
<text x="98.80" y="371.40" font-size="11.6" text-anchor="end" textLength="31.31" lengthAdjust="spacingAndGlyphs" fill="#000">83.00</text>
<text x="98.80" y="394.40" font-size="11.6" text-anchor="end" textLength="31.31" lengthAdjust="spacingAndGlyphs" fill="#000">82.00</text>
<text x="98.80" y="417.40" font-size="11.6" text-anchor="end" textLength="31.31" lengthAdjust="spacingAndGlyphs" fill="#000">81.00</text>
<text x="98.80" y="441.40" font-size="11.6" text-anchor="end" textLength="31.31" lengthAdjust="spacingAndGlyphs" fill="#000">80.00</text>
<text x="98.80" y="464.40" font-size="11.6" text-anchor="end" textLength="31.31" lengthAdjust="spacingAndGlyphs" fill="#000">79.00</text>
<text x="98.80" y="487.40" font-size="11.6" text-anchor="end" textLength="31.31" lengthAdjust="spacingAndGlyphs" fill="#000">78.00</text>
<text x="98.80" y="510.40" font-size="11.6" text-anchor="end" textLength="31.31" lengthAdjust="spacingAndGlyphs" fill="#000">77.00</text>
<text x="98.80" y="534.40" font-size="11.6" text-anchor="end" textLength="31.31" lengthAdjust="spacingAndGlyphs" fill="#000">76.00</text>
<text x="98.80" y="557.40" font-size="11.6" text-anchor="end" textLength="31.31" lengthAdjust="spacingAndGlyphs" fill="#000">75.00</text>
<text x="98.80" y="580.40" font-size="11.6" text-anchor="end" textLength="31.31" lengthAdjust="spacingAndGlyphs" fill="#000">74.00</text>
<text x="98.80" y="604.40" font-size="11.6" text-anchor="end" textLength="31.31" lengthAdjust="spacingAndGlyphs" fill="#000">73.00</text>
<text x="112.00" y="613.30" font-size="11.6" text-anchor="middle" textLength="27.55" lengthAdjust="spacingAndGlyphs" fill="#000">3 Juil</text>
<text x="215.00" y="613.30" font-size="11.6" text-anchor="middle" textLength="34.73" lengthAdjust="spacingAndGlyphs" fill="#000">10 Juil</text>
<text x="318.00" y="613.30" font-size="11.6" text-anchor="middle" textLength="34.73" lengthAdjust="spacingAndGlyphs" fill="#000">17 Juil</text>
<text x="421.00" y="613.30" font-size="11.6" text-anchor="middle" textLength="34.73" lengthAdjust="spacingAndGlyphs" fill="#000">24 Juil</text>
<text x="524.00" y="613.30" font-size="11.6" text-anchor="middle" textLength="34.73" lengthAdjust="spacingAndGlyphs" fill="#000">31 Juil</text>
<text x="627.00" y="613.30" font-size="11.6" text-anchor="middle" textLength="36.80" lengthAdjust="spacingAndGlyphs" fill="#000">7 Août</text>
<text x="730.00" y="613.30" font-size="11.6" text-anchor="middle" textLength="43.98" lengthAdjust="spacingAndGlyphs" fill="#000">14 Août</text>
<text x="832.00" y="613.30" font-size="11.6" text-anchor="middle" textLength="43.98" lengthAdjust="spacingAndGlyphs" fill="#000">21 Août</text>
<text x="935.00" y="613.30" font-size="11.6" text-anchor="middle" textLength="43.98" lengthAdjust="spacingAndGlyphs" fill="#000">28 Août</text>
<text x="1038.00" y="613.30" font-size="11.6" text-anchor="middle" textLength="36.50" lengthAdjust="spacingAndGlyphs" fill="#000">4 Sept</text>
<text x="1141.00" y="613.30" font-size="11.6" text-anchor="middle" textLength="43.69" lengthAdjust="spacingAndGlyphs" fill="#000">11 Sept</text>
<text x="626.30" y="627.00" font-size="11.6" text-anchor="middle" textLength="269.60" lengthAdjust="spacingAndGlyphs" fill="#000">Date (du 3 Juillet 2015 au 11 Septembre 2015)</text>
<text x="62.40" y="329.80" font-size="11.6" text-anchor="middle" textLength="74.00" lengthAdjust="spacingAndGlyphs" fill="#000" transform="rotate(-90 62.40 329.80)">Cours (Euro)</text>
<text x="111.00" y="34.20" font-size="24.4" text-anchor="start" textLength="574.60" lengthAdjust="spacingAndGlyphs" fill="#000">Sodexo: graphique du cours - AnalyBourse.com</text>
<rect x="551.2" y="51.2" width="6.2" height="6.2" fill="#c4c4c4"/>
<rect x="550" y="50" width="6.2" height="6.2" fill="#d46a6a"/>
<text x="560.40" y="55.80" font-size="11.6" text-anchor="start" textLength="55.42" lengthAdjust="spacingAndGlyphs" fill="#000">Support 1</text>
<rect x="620.7" y="51.2" width="6.2" height="6.2" fill="#c4c4c4"/>
<rect x="619.5" y="50" width="6.2" height="6.2" fill="#b86a6a"/>
<text x="628.60" y="55.80" font-size="11.6" text-anchor="start" textLength="55.42" lengthAdjust="spacingAndGlyphs" fill="#000">Support 2</text>
<rect x="689.7" y="51.2" width="6.2" height="6.2" fill="#c4c4c4"/>
<rect x="688.5" y="50" width="6.2" height="6.2" fill="#9c6a6a"/>
<text x="698.10" y="55.80" font-size="11.6" text-anchor="start" textLength="55.42" lengthAdjust="spacingAndGlyphs" fill="#000">Support 3</text>
<rect x="758.2" y="51.2" width="6.2" height="6.2" fill="#c4c4c4"/>
<rect x="757" y="50" width="6.2" height="6.2" fill="#66cc66"/>
<text x="766.90" y="58.00" font-size="11.6" text-anchor="start" textLength="71.67" lengthAdjust="spacingAndGlyphs" fill="#000">Résistance 1</text>
<rect x="843.2" y="51.2" width="6.2" height="6.2" fill="#c4c4c4"/>
<rect x="842" y="50" width="6.2" height="6.2" fill="#66aa66"/>
<text x="852.40" y="58.00" font-size="11.6" text-anchor="start" textLength="71.67" lengthAdjust="spacingAndGlyphs" fill="#000">Résistance 2</text>
<rect x="929.2" y="51.2" width="6.2" height="6.2" fill="#c4c4c4"/>
<rect x="928" y="50" width="6.2" height="6.2" fill="#668a66"/>
<text x="937.20" y="58.00" font-size="11.6" text-anchor="start" textLength="71.67" lengthAdjust="spacingAndGlyphs" fill="#000">Résistance 3</text>
<rect x="1013.7" y="51.2" width="6.2" height="6.2" fill="#c4c4c4"/>
<rect x="1012.5" y="50" width="6.2" height="6.2" fill="#6a6afa"/>
<text x="1022.10" y="55.80" font-size="11.6" text-anchor="start" textLength="31.80" lengthAdjust="spacingAndGlyphs" fill="#000">MM20</text>
<rect x="1059.2" y="51.2" width="6.2" height="6.2" fill="#c4c4c4"/>
<rect x="1058" y="50" width="6.2" height="6.2" fill="#ae6afa"/>
<text x="1066.90" y="55.80" font-size="11.6" text-anchor="start" textLength="31.80" lengthAdjust="spacingAndGlyphs" fill="#000">MM50</text>
<rect x="1103.9" y="51.2" width="6.2" height="6.2" fill="#c4c4c4"/>
<rect x="1102.7" y="50" width="6.2" height="6.2" fill="#fa6afa"/>
<text x="1111.90" y="55.80" font-size="11.6" text-anchor="start" textLength="38.80" lengthAdjust="spacingAndGlyphs" fill="#000">MM100</text>
<rect x="101" y="725" width="1050" height="29" fill="#f9f9f9"/>
<rect x="101" y="783" width="1050" height="29" fill="#f9f9f9"/>
<rect x="101" y="841" width="1050" height="29" fill="#f9f9f9"/>
<line x1="100" x2="1151" y1="725.5" y2="725.5" stroke="#e7e7e7" stroke-dasharray="4 4" stroke-dashoffset="1" shape-rendering="crispEdges"/>
<line x1="100" x2="1151" y1="754.5" y2="754.5" stroke="#e7e7e7" stroke-dasharray="4 4" stroke-dashoffset="1" shape-rendering="crispEdges"/>
<line x1="100" x2="1151" y1="783.5" y2="783.5" stroke="#e7e7e7" stroke-dasharray="4 4" stroke-dashoffset="1" shape-rendering="crispEdges"/>
<line x1="100" x2="1151" y1="812.5" y2="812.5" stroke="#e7e7e7" stroke-dasharray="4 4" stroke-dashoffset="1" shape-rendering="crispEdges"/>
<line x1="100" x2="1151" y1="841.5" y2="841.5" stroke="#e7e7e7" stroke-dasharray="4 4" stroke-dashoffset="1" shape-rendering="crispEdges"/>
<line x1="100" x2="1151" y1="870.5" y2="870.5" stroke="#e7e7e7" stroke-dasharray="4 4" stroke-dashoffset="1" shape-rendering="crispEdges"/>
<line x1="110.5" x2="110.5" y1="725" y2="900" stroke="#e4e4e4" stroke-dasharray="4 4" stroke-dashoffset="1" shape-rendering="crispEdges"/>
<line x1="130.5" x2="130.5" y1="725" y2="900" stroke="#f5f5f5" stroke-dasharray="4 4" stroke-dashoffset="1" shape-rendering="crispEdges"/>
<line x1="151.5" x2="151.5" y1="725" y2="900" stroke="#f5f5f5" stroke-dasharray="4 4" stroke-dashoffset="1" shape-rendering="crispEdges"/>
<line x1="172.5" x2="172.5" y1="725" y2="900" stroke="#f5f5f5" stroke-dasharray="4 4" stroke-dashoffset="1" shape-rendering="crispEdges"/>
<line x1="192.5" x2="192.5" y1="725" y2="900" stroke="#f5f5f5" stroke-dasharray="4 4" stroke-dashoffset="1" shape-rendering="crispEdges"/>
<line x1="213.5" x2="213.5" y1="725" y2="900" stroke="#e4e4e4" stroke-dasharray="4 4" stroke-dashoffset="1" shape-rendering="crispEdges"/>
<line x1="233.5" x2="233.5" y1="725" y2="900" stroke="#f5f5f5" stroke-dasharray="4 4" stroke-dashoffset="1" shape-rendering="crispEdges"/>
<line x1="254.5" x2="254.5" y1="725" y2="900" stroke="#f5f5f5" stroke-dasharray="4 4" stroke-dashoffset="1" shape-rendering="crispEdges"/>
<line x1="275.5" x2="275.5" y1="725" y2="900" stroke="#f5f5f5" stroke-dasharray="4 4" stroke-dashoffset="1" shape-rendering="crispEdges"/>
<line x1="295.5" x2="295.5" y1="725" y2="900" stroke="#f5f5f5" stroke-dasharray="4 4" stroke-dashoffset="1" shape-rendering="crispEdges"/>
<line x1="316.5" x2="316.5" y1="725" y2="900" stroke="#e4e4e4" stroke-dasharray="4 4" stroke-dashoffset="1" shape-rendering="crispEdges"/>
<line x1="336.5" x2="336.5" y1="725" y2="900" stroke="#f5f5f5" stroke-dasharray="4 4" stroke-dashoffset="1" shape-rendering="crispEdges"/>
<line x1="357.5" x2="357.5" y1="725" y2="900" stroke="#f5f5f5" stroke-dasharray="4 4" stroke-dashoffset="1" shape-rendering="crispEdges"/>
<line x1="377.5" x2="377.5" y1="725" y2="900" stroke="#f5f5f5" stroke-dasharray="4 4" stroke-dashoffset="1" shape-rendering="crispEdges"/>
<line x1="398.5" x2="398.5" y1="725" y2="900" stroke="#f5f5f5" stroke-dasharray="4 4" stroke-dashoffset="1" shape-rendering="crispEdges"/>
<line x1="419.5" x2="419.5" y1="725" y2="900" stroke="#e4e4e4" stroke-dasharray="4 4" stroke-dashoffset="1" shape-rendering="crispEdges"/>
<line x1="439.5" x2="439.5" y1="725" y2="900" stroke="#f5f5f5" stroke-dasharray="4 4" stroke-dashoffset="1" shape-rendering="crispEdges"/>
<line x1="460.5" x2="460.5" y1="725" y2="900" stroke="#f5f5f5" stroke-dasharray="4 4" stroke-dashoffset="1" shape-rendering="crispEdges"/>
<line x1="480.5" x2="480.5" y1="725" y2="900" stroke="#f5f5f5" stroke-dasharray="4 4" stroke-dashoffset="1" shape-rendering="crispEdges"/>
<line x1="501.5" x2="501.5" y1="725" y2="900" stroke="#f5f5f5" stroke-dasharray="4 4" stroke-dashoffset="1" shape-rendering="crispEdges"/>
<line x1="522.5" x2="522.5" y1="725" y2="900" stroke="#e4e4e4" stroke-dasharray="4 4" stroke-dashoffset="1" shape-rendering="crispEdges"/>
<line x1="542.5" x2="542.5" y1="725" y2="900" stroke="#f5f5f5" stroke-dasharray="4 4" stroke-dashoffset="1" shape-rendering="crispEdges"/>
<line x1="563.5" x2="563.5" y1="725" y2="900" stroke="#f5f5f5" stroke-dasharray="4 4" stroke-dashoffset="1" shape-rendering="crispEdges"/>
<line x1="583.5" x2="583.5" y1="725" y2="900" stroke="#f5f5f5" stroke-dasharray="4 4" stroke-dashoffset="1" shape-rendering="crispEdges"/>
<line x1="604.5" x2="604.5" y1="725" y2="900" stroke="#f5f5f5" stroke-dasharray="4 4" stroke-dashoffset="1" shape-rendering="crispEdges"/>
<line x1="625.5" x2="625.5" y1="725" y2="900" stroke="#e4e4e4" stroke-dasharray="4 4" stroke-dashoffset="1" shape-rendering="crispEdges"/>
<line x1="645.5" x2="645.5" y1="725" y2="900" stroke="#f5f5f5" stroke-dasharray="4 4" stroke-dashoffset="1" shape-rendering="crispEdges"/>
<line x1="666.5" x2="666.5" y1="725" y2="900" stroke="#f5f5f5" stroke-dasharray="4 4" stroke-dashoffset="1" shape-rendering="crispEdges"/>
<line x1="686.5" x2="686.5" y1="725" y2="900" stroke="#f5f5f5" stroke-dasharray="4 4" stroke-dashoffset="1" shape-rendering="crispEdges"/>
<line x1="707.5" x2="707.5" y1="725" y2="900" stroke="#f5f5f5" stroke-dasharray="4 4" stroke-dashoffset="1" shape-rendering="crispEdges"/>
<line x1="728.5" x2="728.5" y1="725" y2="900" stroke="#e4e4e4" stroke-dasharray="4 4" stroke-dashoffset="1" shape-rendering="crispEdges"/>
<line x1="748.5" x2="748.5" y1="725" y2="900" stroke="#f5f5f5" stroke-dasharray="4 4" stroke-dashoffset="1" shape-rendering="crispEdges"/>
<line x1="769.5" x2="769.5" y1="725" y2="900" stroke="#f5f5f5" stroke-dasharray="4 4" stroke-dashoffset="1" shape-rendering="crispEdges"/>
<line x1="789.5" x2="789.5" y1="725" y2="900" stroke="#f5f5f5" stroke-dasharray="4 4" stroke-dashoffset="1" shape-rendering="crispEdges"/>
<line x1="810.5" x2="810.5" y1="725" y2="900" stroke="#f5f5f5" stroke-dasharray="4 4" stroke-dashoffset="1" shape-rendering="crispEdges"/>
<line x1="830.5" x2="830.5" y1="725" y2="900" stroke="#e4e4e4" stroke-dasharray="4 4" stroke-dashoffset="1" shape-rendering="crispEdges"/>
<line x1="851.5" x2="851.5" y1="725" y2="900" stroke="#f5f5f5" stroke-dasharray="4 4" stroke-dashoffset="1" shape-rendering="crispEdges"/>
<line x1="872.5" x2="872.5" y1="725" y2="900" stroke="#f5f5f5" stroke-dasharray="4 4" stroke-dashoffset="1" shape-rendering="crispEdges"/>
<line x1="892.5" x2="892.5" y1="725" y2="900" stroke="#f5f5f5" stroke-dasharray="4 4" stroke-dashoffset="1" shape-rendering="crispEdges"/>
<line x1="913.5" x2="913.5" y1="725" y2="900" stroke="#f5f5f5" stroke-dasharray="4 4" stroke-dashoffset="1" shape-rendering="crispEdges"/>
<line x1="933.5" x2="933.5" y1="725" y2="900" stroke="#e4e4e4" stroke-dasharray="4 4" stroke-dashoffset="1" shape-rendering="crispEdges"/>
<line x1="954.5" x2="954.5" y1="725" y2="900" stroke="#f5f5f5" stroke-dasharray="4 4" stroke-dashoffset="1" shape-rendering="crispEdges"/>
<line x1="975.5" x2="975.5" y1="725" y2="900" stroke="#f5f5f5" stroke-dasharray="4 4" stroke-dashoffset="1" shape-rendering="crispEdges"/>
<line x1="995.5" x2="995.5" y1="725" y2="900" stroke="#f5f5f5" stroke-dasharray="4 4" stroke-dashoffset="1" shape-rendering="crispEdges"/>
<line x1="1016.5" x2="1016.5" y1="725" y2="900" stroke="#f5f5f5" stroke-dasharray="4 4" stroke-dashoffset="1" shape-rendering="crispEdges"/>
<line x1="1036.5" x2="1036.5" y1="725" y2="900" stroke="#e4e4e4" stroke-dasharray="4 4" stroke-dashoffset="1" shape-rendering="crispEdges"/>
<line x1="1057.5" x2="1057.5" y1="725" y2="900" stroke="#f5f5f5" stroke-dasharray="4 4" stroke-dashoffset="1" shape-rendering="crispEdges"/>
<line x1="1078.5" x2="1078.5" y1="725" y2="900" stroke="#f5f5f5" stroke-dasharray="4 4" stroke-dashoffset="1" shape-rendering="crispEdges"/>
<line x1="1098.5" x2="1098.5" y1="725" y2="900" stroke="#f5f5f5" stroke-dasharray="4 4" stroke-dashoffset="1" shape-rendering="crispEdges"/>
<line x1="1119.5" x2="1119.5" y1="725" y2="900" stroke="#f5f5f5" stroke-dasharray="4 4" stroke-dashoffset="1" shape-rendering="crispEdges"/>
<line x1="1139.5" x2="1139.5" y1="725" y2="900" stroke="#e4e4e4" stroke-dasharray="4 4" stroke-dashoffset="1" shape-rendering="crispEdges"/>
<rect x="103" y="870" width="15" height="30" fill="#fd5b5b" shape-rendering="crispEdges"/>
<rect x="124" y="841" width="14" height="59" fill="#5bfd5b" shape-rendering="crispEdges"/>
<rect x="144" y="856" width="15" height="44" fill="#fd5b5b" shape-rendering="crispEdges"/>
<rect x="165" y="798" width="14" height="102" fill="#5bfd5b" shape-rendering="crispEdges"/>
<rect x="185" y="857" width="15" height="43" fill="#5bfd5b" shape-rendering="crispEdges"/>
<rect x="206" y="865" width="15" height="35" fill="#fd5b5b" shape-rendering="crispEdges"/>
<rect x="226" y="860" width="15" height="40" fill="#5bfd5b" shape-rendering="crispEdges"/>
<rect x="247" y="868" width="15" height="32" fill="#fd5b5b" shape-rendering="crispEdges"/>
<rect x="268" y="876" width="14" height="24" fill="#fd5b5b" shape-rendering="crispEdges"/>
<rect x="288" y="863" width="15" height="37" fill="#5bfd5b" shape-rendering="crispEdges"/>
<rect x="309" y="854" width="15" height="46" fill="#fd5b5b" shape-rendering="crispEdges"/>
<rect x="329" y="891" width="15" height="9" fill="#fd5b5b" shape-rendering="crispEdges"/>
<rect x="350" y="882" width="15" height="18" fill="#fd5b5b" shape-rendering="crispEdges"/>
<rect x="371" y="886" width="14" height="14" fill="#5bfd5b" shape-rendering="crispEdges"/>
<rect x="391" y="883" width="15" height="17" fill="#fd5b5b" shape-rendering="crispEdges"/>
<rect x="412" y="891" width="14" height="9" fill="#fd5b5b" shape-rendering="crispEdges"/>
<rect x="432" y="866" width="15" height="34" fill="#fd5b5b" shape-rendering="crispEdges"/>
<rect x="453" y="867" width="15" height="33" fill="#5bfd5b" shape-rendering="crispEdges"/>
<rect x="474" y="869" width="14" height="31" fill="#fd5b5b" shape-rendering="crispEdges"/>
<rect x="494" y="833" width="15" height="67" fill="#fd5b5b" shape-rendering="crispEdges"/>
<rect x="515" y="865" width="14" height="35" fill="#fd5b5b" shape-rendering="crispEdges"/>
<rect x="535" y="880" width="15" height="20" fill="#5bfd5b" shape-rendering="crispEdges"/>
<rect x="556" y="880" width="15" height="20" fill="#5bfd5b" shape-rendering="crispEdges"/>
<rect x="577" y="849" width="14" height="51" fill="#fd5b5b" shape-rendering="crispEdges"/>
<rect x="597" y="885" width="15" height="15" fill="#fd5b5b" shape-rendering="crispEdges"/>
<rect x="618" y="881" width="14" height="19" fill="#fd5b5b" shape-rendering="crispEdges"/>
<rect x="638" y="887" width="15" height="13" fill="#5bfd5b" shape-rendering="crispEdges"/>
<rect x="659" y="877" width="15" height="23" fill="#fd5b5b" shape-rendering="crispEdges"/>
<rect x="679" y="854" width="15" height="46" fill="#fd5b5b" shape-rendering="crispEdges"/>
<rect x="700" y="873" width="15" height="27" fill="#5bfd5b" shape-rendering="crispEdges"/>
<rect x="721" y="895" width="14" height="5" fill="#fd5b5b" shape-rendering="crispEdges"/>
<rect x="741" y="896" width="15" height="4" fill="#fd5b5b" shape-rendering="crispEdges"/>
<rect x="762" y="890" width="15" height="10" fill="#5bfd5b" shape-rendering="crispEdges"/>
<rect x="782" y="894" width="15" height="6" fill="#fd5b5b" shape-rendering="crispEdges"/>
<rect x="803" y="881" width="15" height="19" fill="#fd5b5b" shape-rendering="crispEdges"/>
<rect x="824" y="826" width="14" height="74" fill="#fd5b5b" shape-rendering="crispEdges"/>
<rect x="844" y="735" width="15" height="165" fill="#5bfd5b" shape-rendering="crispEdges"/>
<rect x="865" y="782" width="14" height="118" fill="#5bfd5b" shape-rendering="crispEdges"/>
<rect x="885" y="742" width="15" height="158" fill="#fd5b5b" shape-rendering="crispEdges"/>
<rect x="906" y="833" width="15" height="67" fill="#5bfd5b" shape-rendering="crispEdges"/>
<rect x="927" y="829" width="14" height="71" fill="#fd5b5b" shape-rendering="crispEdges"/>
<rect x="947" y="862" width="15" height="38" fill="#5bfd5b" shape-rendering="crispEdges"/>
<rect x="968" y="842" width="14" height="58" fill="#fd5b5b" shape-rendering="crispEdges"/>
<rect x="988" y="833" width="15" height="67" fill="#5bfd5b" shape-rendering="crispEdges"/>
<rect x="1009" y="849" width="15" height="51" fill="#5bfd5b" shape-rendering="crispEdges"/>
<rect x="1029" y="839" width="15" height="61" fill="#fd5b5b" shape-rendering="crispEdges"/>
<rect x="1050" y="880" width="15" height="20" fill="#fd5b5b" shape-rendering="crispEdges"/>
<rect x="1071" y="882" width="14" height="18" fill="#5bfd5b" shape-rendering="crispEdges"/>
<rect x="1091" y="882" width="15" height="18" fill="#fd5b5b" shape-rendering="crispEdges"/>
<rect x="1112" y="864" width="15" height="36" fill="#fd5b5b" shape-rendering="crispEdges"/>
<rect x="1132" y="894" width="15" height="6" fill="#fd5b5b" shape-rendering="crispEdges"/>
<rect x="100" y="720" width="1" height="181" fill="#1a1a1a" shape-rendering="crispEdges"/>
<path d="M100 713h1v1h1v2h1v2h1v2h-7v-2h1v-2h1v-2h1z" fill="#000" shape-rendering="crispEdges"/>
<rect x="100" y="900" width="1063" height="1" fill="#1a1a1a" shape-rendering="crispEdges"/>
<path d="M1162 900v1h-1v1h-2v1h-2v1h-2v-7h2v1h2v1h2v1h1z" fill="#000" shape-rendering="crispEdges"/>
<rect x="98" y="725" width="5" height="1" fill="#1a1a1a" shape-rendering="crispEdges"/>
<rect x="98" y="739" width="2" height="1" fill="#ff0000" shape-rendering="crispEdges"/>
<rect x="98" y="754" width="5" height="1" fill="#1a1a1a" shape-rendering="crispEdges"/>
<rect x="98" y="768" width="2" height="1" fill="#ff0000" shape-rendering="crispEdges"/>
<rect x="98" y="783" width="5" height="1" fill="#1a1a1a" shape-rendering="crispEdges"/>
<rect x="98" y="797" width="2" height="1" fill="#ff0000" shape-rendering="crispEdges"/>
<rect x="98" y="812" width="5" height="1" fill="#1a1a1a" shape-rendering="crispEdges"/>
<rect x="98" y="827" width="2" height="1" fill="#ff0000" shape-rendering="crispEdges"/>
<rect x="98" y="841" width="5" height="1" fill="#1a1a1a" shape-rendering="crispEdges"/>
<rect x="98" y="856" width="2" height="1" fill="#ff0000" shape-rendering="crispEdges"/>
<rect x="98" y="870" width="5" height="1" fill="#1a1a1a" shape-rendering="crispEdges"/>
<rect x="98" y="885" width="2" height="1" fill="#ff0000" shape-rendering="crispEdges"/>
<rect x="98" y="900" width="5" height="1" fill="#1a1a1a" shape-rendering="crispEdges"/>
<rect x="110" y="898" width="1" height="5" fill="#1a1a1a" shape-rendering="crispEdges"/>
<rect x="130" y="901" width="1" height="2" fill="#c4c4c4" shape-rendering="crispEdges"/>
<rect x="151" y="901" width="1" height="2" fill="#c4c4c4" shape-rendering="crispEdges"/>
<rect x="172" y="901" width="1" height="2" fill="#c4c4c4" shape-rendering="crispEdges"/>
<rect x="192" y="901" width="1" height="2" fill="#c4c4c4" shape-rendering="crispEdges"/>
<rect x="213" y="898" width="1" height="5" fill="#1a1a1a" shape-rendering="crispEdges"/>
<rect x="233" y="901" width="1" height="2" fill="#c4c4c4" shape-rendering="crispEdges"/>
<rect x="254" y="901" width="1" height="2" fill="#c4c4c4" shape-rendering="crispEdges"/>
<rect x="275" y="901" width="1" height="2" fill="#c4c4c4" shape-rendering="crispEdges"/>
<rect x="295" y="901" width="1" height="2" fill="#c4c4c4" shape-rendering="crispEdges"/>
<rect x="316" y="898" width="1" height="5" fill="#1a1a1a" shape-rendering="crispEdges"/>
<rect x="336" y="901" width="1" height="2" fill="#c4c4c4" shape-rendering="crispEdges"/>
<rect x="357" y="901" width="1" height="2" fill="#c4c4c4" shape-rendering="crispEdges"/>
<rect x="377" y="901" width="1" height="2" fill="#c4c4c4" shape-rendering="crispEdges"/>
<rect x="398" y="901" width="1" height="2" fill="#c4c4c4" shape-rendering="crispEdges"/>
<rect x="419" y="898" width="1" height="5" fill="#1a1a1a" shape-rendering="crispEdges"/>
<rect x="439" y="901" width="1" height="2" fill="#c4c4c4" shape-rendering="crispEdges"/>
<rect x="460" y="901" width="1" height="2" fill="#c4c4c4" shape-rendering="crispEdges"/>
<rect x="480" y="901" width="1" height="2" fill="#c4c4c4" shape-rendering="crispEdges"/>
<rect x="501" y="901" width="1" height="2" fill="#c4c4c4" shape-rendering="crispEdges"/>
<rect x="522" y="898" width="1" height="5" fill="#1a1a1a" shape-rendering="crispEdges"/>
<rect x="542" y="901" width="1" height="2" fill="#c4c4c4" shape-rendering="crispEdges"/>
<rect x="563" y="901" width="1" height="2" fill="#c4c4c4" shape-rendering="crispEdges"/>
<rect x="583" y="901" width="1" height="2" fill="#c4c4c4" shape-rendering="crispEdges"/>
<rect x="604" y="901" width="1" height="2" fill="#c4c4c4" shape-rendering="crispEdges"/>
<rect x="625" y="898" width="1" height="5" fill="#1a1a1a" shape-rendering="crispEdges"/>
<rect x="645" y="901" width="1" height="2" fill="#c4c4c4" shape-rendering="crispEdges"/>
<rect x="666" y="901" width="1" height="2" fill="#c4c4c4" shape-rendering="crispEdges"/>
<rect x="686" y="901" width="1" height="2" fill="#c4c4c4" shape-rendering="crispEdges"/>
<rect x="707" y="901" width="1" height="2" fill="#c4c4c4" shape-rendering="crispEdges"/>
<rect x="728" y="898" width="1" height="5" fill="#1a1a1a" shape-rendering="crispEdges"/>
<rect x="748" y="901" width="1" height="2" fill="#c4c4c4" shape-rendering="crispEdges"/>
<rect x="769" y="901" width="1" height="2" fill="#c4c4c4" shape-rendering="crispEdges"/>
<rect x="789" y="901" width="1" height="2" fill="#c4c4c4" shape-rendering="crispEdges"/>
<rect x="810" y="901" width="1" height="2" fill="#c4c4c4" shape-rendering="crispEdges"/>
<rect x="830" y="898" width="1" height="5" fill="#1a1a1a" shape-rendering="crispEdges"/>
<rect x="851" y="901" width="1" height="2" fill="#c4c4c4" shape-rendering="crispEdges"/>
<rect x="872" y="901" width="1" height="2" fill="#c4c4c4" shape-rendering="crispEdges"/>
<rect x="892" y="901" width="1" height="2" fill="#c4c4c4" shape-rendering="crispEdges"/>
<rect x="913" y="901" width="1" height="2" fill="#c4c4c4" shape-rendering="crispEdges"/>
<rect x="933" y="898" width="1" height="5" fill="#1a1a1a" shape-rendering="crispEdges"/>
<rect x="954" y="901" width="1" height="2" fill="#c4c4c4" shape-rendering="crispEdges"/>
<rect x="975" y="901" width="1" height="2" fill="#c4c4c4" shape-rendering="crispEdges"/>
<rect x="995" y="901" width="1" height="2" fill="#c4c4c4" shape-rendering="crispEdges"/>
<rect x="1016" y="901" width="1" height="2" fill="#c4c4c4" shape-rendering="crispEdges"/>
<rect x="1036" y="898" width="1" height="5" fill="#1a1a1a" shape-rendering="crispEdges"/>
<rect x="1057" y="901" width="1" height="2" fill="#c4c4c4" shape-rendering="crispEdges"/>
<rect x="1078" y="901" width="1" height="2" fill="#c4c4c4" shape-rendering="crispEdges"/>
<rect x="1098" y="901" width="1" height="2" fill="#c4c4c4" shape-rendering="crispEdges"/>
<rect x="1119" y="901" width="1" height="2" fill="#c4c4c4" shape-rendering="crispEdges"/>
<rect x="1139" y="898" width="1" height="5" fill="#1a1a1a" shape-rendering="crispEdges"/>
<text x="98.80" y="728.20" font-size="11.6" text-anchor="end" textLength="62.62" lengthAdjust="spacingAndGlyphs" fill="#000">700,000.00</text>
<text x="98.80" y="757.20" font-size="11.6" text-anchor="end" textLength="62.62" lengthAdjust="spacingAndGlyphs" fill="#000">600,000.00</text>
<text x="98.80" y="786.20" font-size="11.6" text-anchor="end" textLength="62.62" lengthAdjust="spacingAndGlyphs" fill="#000">500,000.00</text>
<text x="98.80" y="815.20" font-size="11.6" text-anchor="end" textLength="62.62" lengthAdjust="spacingAndGlyphs" fill="#000">400,000.00</text>
<text x="98.80" y="844.20" font-size="11.6" text-anchor="end" textLength="62.62" lengthAdjust="spacingAndGlyphs" fill="#000">300,000.00</text>
<text x="98.80" y="873.20" font-size="11.6" text-anchor="end" textLength="62.62" lengthAdjust="spacingAndGlyphs" fill="#000">200,000.00</text>
<text x="98.80" y="903.20" font-size="11.6" text-anchor="end" textLength="62.62" lengthAdjust="spacingAndGlyphs" fill="#000">100,000.00</text>
<text x="112.00" y="913.30" font-size="11.6" text-anchor="middle" textLength="27.55" lengthAdjust="spacingAndGlyphs" fill="#000">3 Juil</text>
<text x="215.00" y="913.30" font-size="11.6" text-anchor="middle" textLength="34.73" lengthAdjust="spacingAndGlyphs" fill="#000">10 Juil</text>
<text x="318.00" y="913.30" font-size="11.6" text-anchor="middle" textLength="34.73" lengthAdjust="spacingAndGlyphs" fill="#000">17 Juil</text>
<text x="421.00" y="913.30" font-size="11.6" text-anchor="middle" textLength="34.73" lengthAdjust="spacingAndGlyphs" fill="#000">24 Juil</text>
<text x="524.00" y="913.30" font-size="11.6" text-anchor="middle" textLength="34.73" lengthAdjust="spacingAndGlyphs" fill="#000">31 Juil</text>
<text x="627.00" y="913.30" font-size="11.6" text-anchor="middle" textLength="36.80" lengthAdjust="spacingAndGlyphs" fill="#000">7 Août</text>
<text x="730.00" y="913.30" font-size="11.6" text-anchor="middle" textLength="43.98" lengthAdjust="spacingAndGlyphs" fill="#000">14 Août</text>
<text x="832.00" y="913.30" font-size="11.6" text-anchor="middle" textLength="43.98" lengthAdjust="spacingAndGlyphs" fill="#000">21 Août</text>
<text x="935.00" y="913.30" font-size="11.6" text-anchor="middle" textLength="43.98" lengthAdjust="spacingAndGlyphs" fill="#000">28 Août</text>
<text x="1038.00" y="913.30" font-size="11.6" text-anchor="middle" textLength="36.50" lengthAdjust="spacingAndGlyphs" fill="#000">4 Sept</text>
<text x="1141.00" y="913.30" font-size="11.6" text-anchor="middle" textLength="43.69" lengthAdjust="spacingAndGlyphs" fill="#000">11 Sept</text>
<text x="626.30" y="927.00" font-size="11.6" text-anchor="middle" textLength="269.60" lengthAdjust="spacingAndGlyphs" fill="#000">Date (du 3 Juillet 2015 au 11 Septembre 2015)</text>
<text x="32.50" y="810.70" font-size="11.6" text-anchor="middle" textLength="42.90" lengthAdjust="spacingAndGlyphs" fill="#000" transform="rotate(-90 32.50 810.70)">Volume</text>
<text x="111.00" y="694.20" font-size="24.4" text-anchor="start" textLength="595.40" lengthAdjust="spacingAndGlyphs" fill="#000">Sodexo: graphique du volume - AnalyBourse.com</text>
<rect x="101" y="1060" width="1050" height="35" fill="#f9f9f9"/>
<rect x="101" y="1130" width="1050" height="35" fill="#f9f9f9"/>
<line x1="100" x2="1151" y1="1025.5" y2="1025.5" stroke="#e7e7e7" stroke-dasharray="4 4" stroke-dashoffset="1" shape-rendering="crispEdges"/>
<line x1="100" x2="1151" y1="1060.5" y2="1060.5" stroke="#e7e7e7" stroke-dasharray="4 4" stroke-dashoffset="1" shape-rendering="crispEdges"/>
<line x1="100" x2="1151" y1="1095.5" y2="1095.5" stroke="#e7e7e7" stroke-dasharray="4 4" stroke-dashoffset="1" shape-rendering="crispEdges"/>
<line x1="100" x2="1151" y1="1130.5" y2="1130.5" stroke="#e7e7e7" stroke-dasharray="4 4" stroke-dashoffset="1" shape-rendering="crispEdges"/>
<line x1="100" x2="1151" y1="1165.5" y2="1165.5" stroke="#e7e7e7" stroke-dasharray="4 4" stroke-dashoffset="1" shape-rendering="crispEdges"/>
<line x1="110.5" x2="110.5" y1="1025" y2="1200" stroke="#e4e4e4" stroke-dasharray="4 4" stroke-dashoffset="1" shape-rendering="crispEdges"/>
<line x1="130.5" x2="130.5" y1="1025" y2="1200" stroke="#f5f5f5" stroke-dasharray="4 4" stroke-dashoffset="1" shape-rendering="crispEdges"/>
<line x1="151.5" x2="151.5" y1="1025" y2="1200" stroke="#f5f5f5" stroke-dasharray="4 4" stroke-dashoffset="1" shape-rendering="crispEdges"/>
<line x1="172.5" x2="172.5" y1="1025" y2="1200" stroke="#f5f5f5" stroke-dasharray="4 4" stroke-dashoffset="1" shape-rendering="crispEdges"/>
<line x1="192.5" x2="192.5" y1="1025" y2="1200" stroke="#f5f5f5" stroke-dasharray="4 4" stroke-dashoffset="1" shape-rendering="crispEdges"/>
<line x1="213.5" x2="213.5" y1="1025" y2="1200" stroke="#e4e4e4" stroke-dasharray="4 4" stroke-dashoffset="1" shape-rendering="crispEdges"/>
<line x1="233.5" x2="233.5" y1="1025" y2="1200" stroke="#f5f5f5" stroke-dasharray="4 4" stroke-dashoffset="1" shape-rendering="crispEdges"/>
<line x1="254.5" x2="254.5" y1="1025" y2="1200" stroke="#f5f5f5" stroke-dasharray="4 4" stroke-dashoffset="1" shape-rendering="crispEdges"/>
<line x1="275.5" x2="275.5" y1="1025" y2="1200" stroke="#f5f5f5" stroke-dasharray="4 4" stroke-dashoffset="1" shape-rendering="crispEdges"/>
<line x1="295.5" x2="295.5" y1="1025" y2="1200" stroke="#f5f5f5" stroke-dasharray="4 4" stroke-dashoffset="1" shape-rendering="crispEdges"/>
<line x1="316.5" x2="316.5" y1="1025" y2="1200" stroke="#e4e4e4" stroke-dasharray="4 4" stroke-dashoffset="1" shape-rendering="crispEdges"/>
<line x1="336.5" x2="336.5" y1="1025" y2="1200" stroke="#f5f5f5" stroke-dasharray="4 4" stroke-dashoffset="1" shape-rendering="crispEdges"/>
<line x1="357.5" x2="357.5" y1="1025" y2="1200" stroke="#f5f5f5" stroke-dasharray="4 4" stroke-dashoffset="1" shape-rendering="crispEdges"/>
<line x1="377.5" x2="377.5" y1="1025" y2="1200" stroke="#f5f5f5" stroke-dasharray="4 4" stroke-dashoffset="1" shape-rendering="crispEdges"/>
<line x1="398.5" x2="398.5" y1="1025" y2="1200" stroke="#f5f5f5" stroke-dasharray="4 4" stroke-dashoffset="1" shape-rendering="crispEdges"/>
<line x1="419.5" x2="419.5" y1="1025" y2="1200" stroke="#e4e4e4" stroke-dasharray="4 4" stroke-dashoffset="1" shape-rendering="crispEdges"/>
<line x1="439.5" x2="439.5" y1="1025" y2="1200" stroke="#f5f5f5" stroke-dasharray="4 4" stroke-dashoffset="1" shape-rendering="crispEdges"/>
<line x1="460.5" x2="460.5" y1="1025" y2="1200" stroke="#f5f5f5" stroke-dasharray="4 4" stroke-dashoffset="1" shape-rendering="crispEdges"/>
<line x1="480.5" x2="480.5" y1="1025" y2="1200" stroke="#f5f5f5" stroke-dasharray="4 4" stroke-dashoffset="1" shape-rendering="crispEdges"/>
<line x1="501.5" x2="501.5" y1="1025" y2="1200" stroke="#f5f5f5" stroke-dasharray="4 4" stroke-dashoffset="1" shape-rendering="crispEdges"/>
<line x1="522.5" x2="522.5" y1="1025" y2="1200" stroke="#e4e4e4" stroke-dasharray="4 4" stroke-dashoffset="1" shape-rendering="crispEdges"/>
<line x1="542.5" x2="542.5" y1="1025" y2="1200" stroke="#f5f5f5" stroke-dasharray="4 4" stroke-dashoffset="1" shape-rendering="crispEdges"/>
<line x1="563.5" x2="563.5" y1="1025" y2="1200" stroke="#f5f5f5" stroke-dasharray="4 4" stroke-dashoffset="1" shape-rendering="crispEdges"/>
<line x1="583.5" x2="583.5" y1="1025" y2="1200" stroke="#f5f5f5" stroke-dasharray="4 4" stroke-dashoffset="1" shape-rendering="crispEdges"/>
<line x1="604.5" x2="604.5" y1="1025" y2="1200" stroke="#f5f5f5" stroke-dasharray="4 4" stroke-dashoffset="1" shape-rendering="crispEdges"/>
<line x1="625.5" x2="625.5" y1="1025" y2="1200" stroke="#e4e4e4" stroke-dasharray="4 4" stroke-dashoffset="1" shape-rendering="crispEdges"/>
<line x1="645.5" x2="645.5" y1="1025" y2="1200" stroke="#f5f5f5" stroke-dasharray="4 4" stroke-dashoffset="1" shape-rendering="crispEdges"/>
<line x1="666.5" x2="666.5" y1="1025" y2="1200" stroke="#f5f5f5" stroke-dasharray="4 4" stroke-dashoffset="1" shape-rendering="crispEdges"/>
<line x1="686.5" x2="686.5" y1="1025" y2="1200" stroke="#f5f5f5" stroke-dasharray="4 4" stroke-dashoffset="1" shape-rendering="crispEdges"/>
<line x1="707.5" x2="707.5" y1="1025" y2="1200" stroke="#f5f5f5" stroke-dasharray="4 4" stroke-dashoffset="1" shape-rendering="crispEdges"/>
<line x1="728.5" x2="728.5" y1="1025" y2="1200" stroke="#e4e4e4" stroke-dasharray="4 4" stroke-dashoffset="1" shape-rendering="crispEdges"/>
<line x1="748.5" x2="748.5" y1="1025" y2="1200" stroke="#f5f5f5" stroke-dasharray="4 4" stroke-dashoffset="1" shape-rendering="crispEdges"/>
<line x1="769.5" x2="769.5" y1="1025" y2="1200" stroke="#f5f5f5" stroke-dasharray="4 4" stroke-dashoffset="1" shape-rendering="crispEdges"/>
<line x1="789.5" x2="789.5" y1="1025" y2="1200" stroke="#f5f5f5" stroke-dasharray="4 4" stroke-dashoffset="1" shape-rendering="crispEdges"/>
<line x1="810.5" x2="810.5" y1="1025" y2="1200" stroke="#f5f5f5" stroke-dasharray="4 4" stroke-dashoffset="1" shape-rendering="crispEdges"/>
<line x1="830.5" x2="830.5" y1="1025" y2="1200" stroke="#e4e4e4" stroke-dasharray="4 4" stroke-dashoffset="1" shape-rendering="crispEdges"/>
<line x1="851.5" x2="851.5" y1="1025" y2="1200" stroke="#f5f5f5" stroke-dasharray="4 4" stroke-dashoffset="1" shape-rendering="crispEdges"/>
<line x1="872.5" x2="872.5" y1="1025" y2="1200" stroke="#f5f5f5" stroke-dasharray="4 4" stroke-dashoffset="1" shape-rendering="crispEdges"/>
<line x1="892.5" x2="892.5" y1="1025" y2="1200" stroke="#f5f5f5" stroke-dasharray="4 4" stroke-dashoffset="1" shape-rendering="crispEdges"/>
<line x1="913.5" x2="913.5" y1="1025" y2="1200" stroke="#f5f5f5" stroke-dasharray="4 4" stroke-dashoffset="1" shape-rendering="crispEdges"/>
<line x1="933.5" x2="933.5" y1="1025" y2="1200" stroke="#e4e4e4" stroke-dasharray="4 4" stroke-dashoffset="1" shape-rendering="crispEdges"/>
<line x1="954.5" x2="954.5" y1="1025" y2="1200" stroke="#f5f5f5" stroke-dasharray="4 4" stroke-dashoffset="1" shape-rendering="crispEdges"/>
<line x1="975.5" x2="975.5" y1="1025" y2="1200" stroke="#f5f5f5" stroke-dasharray="4 4" stroke-dashoffset="1" shape-rendering="crispEdges"/>
<line x1="995.5" x2="995.5" y1="1025" y2="1200" stroke="#f5f5f5" stroke-dasharray="4 4" stroke-dashoffset="1" shape-rendering="crispEdges"/>
<line x1="1016.5" x2="1016.5" y1="1025" y2="1200" stroke="#f5f5f5" stroke-dasharray="4 4" stroke-dashoffset="1" shape-rendering="crispEdges"/>
<line x1="1036.5" x2="1036.5" y1="1025" y2="1200" stroke="#e4e4e4" stroke-dasharray="4 4" stroke-dashoffset="1" shape-rendering="crispEdges"/>
<line x1="1057.5" x2="1057.5" y1="1025" y2="1200" stroke="#f5f5f5" stroke-dasharray="4 4" stroke-dashoffset="1" shape-rendering="crispEdges"/>
<line x1="1078.5" x2="1078.5" y1="1025" y2="1200" stroke="#f5f5f5" stroke-dasharray="4 4" stroke-dashoffset="1" shape-rendering="crispEdges"/>
<line x1="1098.5" x2="1098.5" y1="1025" y2="1200" stroke="#f5f5f5" stroke-dasharray="4 4" stroke-dashoffset="1" shape-rendering="crispEdges"/>
<line x1="1119.5" x2="1119.5" y1="1025" y2="1200" stroke="#f5f5f5" stroke-dasharray="4 4" stroke-dashoffset="1" shape-rendering="crispEdges"/>
<line x1="1139.5" x2="1139.5" y1="1025" y2="1200" stroke="#e4e4e4" stroke-dasharray="4 4" stroke-dashoffset="1" shape-rendering="crispEdges"/>
<rect x="110" y="1112" width="1030" height="1" fill="#707070" shape-rendering="crispEdges"/>
<path d="M110.5 1141.5 C112.8 1141.6 126.5 1142.3 131.1 1142.7 C135.7 1143.1 147.1 1144.4 151.7 1144.7 C156.3 1145.0 167.7 1145.9 172.3 1145.5 C176.8 1145.0 188.3 1143.1 192.9 1141.1 C197.4 1139.1 208.9 1130.2 213.4 1127.2 C218.0 1124.2 229.5 1115.6 234.0 1114.5 C238.6 1113.3 250.1 1116.4 254.6 1116.5 C259.2 1116.5 270.6 1115.7 275.2 1114.7 C279.8 1113.7 291.2 1108.1 295.8 1107.2 C300.4 1106.3 311.8 1106.7 316.4 1106.5 C321.0 1106.2 332.4 1103.9 337.0 1104.7 C341.6 1105.5 353.0 1112.1 357.6 1113.5 C362.2 1114.8 373.6 1116.4 378.2 1117.2 C382.7 1118.0 394.2 1119.6 398.8 1120.5 C403.3 1121.3 414.8 1123.5 419.4 1125.2 C423.9 1127.0 435.4 1135.7 439.9 1136.2 C444.5 1136.7 456.0 1130.0 460.5 1129.5 C465.1 1129.0 476.5 1131.0 481.1 1131.5 C485.7 1132.0 497.1 1133.5 501.7 1133.9 C506.3 1134.3 517.7 1135.6 522.3 1135.5 C526.9 1135.4 538.3 1133.7 542.9 1132.9 C547.5 1132.1 558.9 1129.1 563.5 1128.5 C568.1 1127.9 579.5 1127.1 584.1 1127.2 C588.6 1127.3 600.1 1128.8 604.7 1129.2 C609.2 1129.6 620.7 1131.8 625.2 1131.2 C629.8 1130.6 641.3 1124.0 645.8 1124.2 C650.4 1124.4 661.9 1130.7 666.4 1132.9 C671.0 1135.1 682.4 1144.7 687.0 1144.2 C691.6 1143.7 703.0 1130.2 707.6 1128.5 C712.2 1126.8 723.6 1128.7 728.2 1128.5 C732.8 1128.3 744.2 1127.2 748.8 1126.9 C753.4 1126.6 764.8 1125.0 769.4 1126.2 C774.0 1127.4 785.4 1135.5 790.0 1137.5 C794.5 1139.5 806.0 1141.7 810.6 1143.9 C815.1 1146.1 826.6 1154.6 831.1 1156.9 C835.7 1159.2 847.2 1166.3 851.7 1164.5 C856.3 1162.7 867.8 1141.8 872.3 1140.5 C876.9 1139.2 888.3 1153.0 892.9 1152.5 C897.5 1152.0 908.9 1137.6 913.5 1136.2 C918.1 1134.8 929.5 1139.1 934.1 1139.5 C938.7 1139.9 950.1 1138.9 954.7 1139.5 C959.3 1140.1 970.7 1143.9 975.3 1144.5 C979.9 1145.1 991.3 1145.4 995.9 1144.7 C1000.4 1144.0 1011.9 1138.4 1016.5 1138.5 C1021.0 1138.6 1032.5 1144.8 1037.0 1145.5 C1041.6 1146.2 1053.1 1145.9 1057.6 1145.2 C1062.2 1144.5 1073.7 1141.5 1078.2 1139.5 C1082.8 1137.5 1094.2 1127.7 1098.8 1127.2 C1103.4 1126.7 1114.8 1133.5 1119.4 1135.2 C1124.0 1136.9 1137.7 1142.0 1140.0 1142.9" fill="none" stroke="#fa3a3a" stroke-width="1"/>
<rect x="100" y="1020" width="1" height="181" fill="#1a1a1a" shape-rendering="crispEdges"/>
<path d="M100 1013h1v1h1v2h1v2h1v2h-7v-2h1v-2h1v-2h1z" fill="#000" shape-rendering="crispEdges"/>
<rect x="100" y="1200" width="1063" height="1" fill="#1a1a1a" shape-rendering="crispEdges"/>
<path d="M1162 1200v1h-1v1h-2v1h-2v1h-2v-7h2v1h2v1h2v1h1z" fill="#000" shape-rendering="crispEdges"/>
<rect x="98" y="1025" width="5" height="1" fill="#1a1a1a" shape-rendering="crispEdges"/>
<rect x="98" y="1042" width="2" height="1" fill="#ff0000" shape-rendering="crispEdges"/>
<rect x="98" y="1060" width="5" height="1" fill="#1a1a1a" shape-rendering="crispEdges"/>
<rect x="98" y="1077" width="2" height="1" fill="#ff0000" shape-rendering="crispEdges"/>
<rect x="98" y="1095" width="5" height="1" fill="#1a1a1a" shape-rendering="crispEdges"/>
<rect x="98" y="1112" width="2" height="1" fill="#ff0000" shape-rendering="crispEdges"/>
<rect x="98" y="1130" width="5" height="1" fill="#1a1a1a" shape-rendering="crispEdges"/>
<rect x="98" y="1147" width="2" height="1" fill="#ff0000" shape-rendering="crispEdges"/>
<rect x="98" y="1165" width="5" height="1" fill="#1a1a1a" shape-rendering="crispEdges"/>
<rect x="98" y="1182" width="2" height="1" fill="#ff0000" shape-rendering="crispEdges"/>
<rect x="98" y="1200" width="5" height="1" fill="#1a1a1a" shape-rendering="crispEdges"/>
<rect x="110" y="1198" width="1" height="5" fill="#1a1a1a" shape-rendering="crispEdges"/>
<rect x="130" y="1201" width="1" height="2" fill="#c4c4c4" shape-rendering="crispEdges"/>
<rect x="151" y="1201" width="1" height="2" fill="#c4c4c4" shape-rendering="crispEdges"/>
<rect x="172" y="1201" width="1" height="2" fill="#c4c4c4" shape-rendering="crispEdges"/>
<rect x="192" y="1201" width="1" height="2" fill="#c4c4c4" shape-rendering="crispEdges"/>
<rect x="213" y="1198" width="1" height="5" fill="#1a1a1a" shape-rendering="crispEdges"/>
<rect x="233" y="1201" width="1" height="2" fill="#c4c4c4" shape-rendering="crispEdges"/>
<rect x="254" y="1201" width="1" height="2" fill="#c4c4c4" shape-rendering="crispEdges"/>
<rect x="275" y="1201" width="1" height="2" fill="#c4c4c4" shape-rendering="crispEdges"/>
<rect x="295" y="1201" width="1" height="2" fill="#c4c4c4" shape-rendering="crispEdges"/>
<rect x="316" y="1198" width="1" height="5" fill="#1a1a1a" shape-rendering="crispEdges"/>
<rect x="336" y="1201" width="1" height="2" fill="#c4c4c4" shape-rendering="crispEdges"/>
<rect x="357" y="1201" width="1" height="2" fill="#c4c4c4" shape-rendering="crispEdges"/>
<rect x="377" y="1201" width="1" height="2" fill="#c4c4c4" shape-rendering="crispEdges"/>
<rect x="398" y="1201" width="1" height="2" fill="#c4c4c4" shape-rendering="crispEdges"/>
<rect x="419" y="1198" width="1" height="5" fill="#1a1a1a" shape-rendering="crispEdges"/>
<rect x="439" y="1201" width="1" height="2" fill="#c4c4c4" shape-rendering="crispEdges"/>
<rect x="460" y="1201" width="1" height="2" fill="#c4c4c4" shape-rendering="crispEdges"/>
<rect x="480" y="1201" width="1" height="2" fill="#c4c4c4" shape-rendering="crispEdges"/>
<rect x="501" y="1201" width="1" height="2" fill="#c4c4c4" shape-rendering="crispEdges"/>
<rect x="522" y="1198" width="1" height="5" fill="#1a1a1a" shape-rendering="crispEdges"/>
<rect x="542" y="1201" width="1" height="2" fill="#c4c4c4" shape-rendering="crispEdges"/>
<rect x="563" y="1201" width="1" height="2" fill="#c4c4c4" shape-rendering="crispEdges"/>
<rect x="583" y="1201" width="1" height="2" fill="#c4c4c4" shape-rendering="crispEdges"/>
<rect x="604" y="1201" width="1" height="2" fill="#c4c4c4" shape-rendering="crispEdges"/>
<rect x="625" y="1198" width="1" height="5" fill="#1a1a1a" shape-rendering="crispEdges"/>
<rect x="645" y="1201" width="1" height="2" fill="#c4c4c4" shape-rendering="crispEdges"/>
<rect x="666" y="1201" width="1" height="2" fill="#c4c4c4" shape-rendering="crispEdges"/>
<rect x="686" y="1201" width="1" height="2" fill="#c4c4c4" shape-rendering="crispEdges"/>
<rect x="707" y="1201" width="1" height="2" fill="#c4c4c4" shape-rendering="crispEdges"/>
<rect x="728" y="1198" width="1" height="5" fill="#1a1a1a" shape-rendering="crispEdges"/>
<rect x="748" y="1201" width="1" height="2" fill="#c4c4c4" shape-rendering="crispEdges"/>
<rect x="769" y="1201" width="1" height="2" fill="#c4c4c4" shape-rendering="crispEdges"/>
<rect x="789" y="1201" width="1" height="2" fill="#c4c4c4" shape-rendering="crispEdges"/>
<rect x="810" y="1201" width="1" height="2" fill="#c4c4c4" shape-rendering="crispEdges"/>
<rect x="830" y="1198" width="1" height="5" fill="#1a1a1a" shape-rendering="crispEdges"/>
<rect x="851" y="1201" width="1" height="2" fill="#c4c4c4" shape-rendering="crispEdges"/>
<rect x="872" y="1201" width="1" height="2" fill="#c4c4c4" shape-rendering="crispEdges"/>
<rect x="892" y="1201" width="1" height="2" fill="#c4c4c4" shape-rendering="crispEdges"/>
<rect x="913" y="1201" width="1" height="2" fill="#c4c4c4" shape-rendering="crispEdges"/>
<rect x="933" y="1198" width="1" height="5" fill="#1a1a1a" shape-rendering="crispEdges"/>
<rect x="954" y="1201" width="1" height="2" fill="#c4c4c4" shape-rendering="crispEdges"/>
<rect x="975" y="1201" width="1" height="2" fill="#c4c4c4" shape-rendering="crispEdges"/>
<rect x="995" y="1201" width="1" height="2" fill="#c4c4c4" shape-rendering="crispEdges"/>
<rect x="1016" y="1201" width="1" height="2" fill="#c4c4c4" shape-rendering="crispEdges"/>
<rect x="1036" y="1198" width="1" height="5" fill="#1a1a1a" shape-rendering="crispEdges"/>
<rect x="1057" y="1201" width="1" height="2" fill="#c4c4c4" shape-rendering="crispEdges"/>
<rect x="1078" y="1201" width="1" height="2" fill="#c4c4c4" shape-rendering="crispEdges"/>
<rect x="1098" y="1201" width="1" height="2" fill="#c4c4c4" shape-rendering="crispEdges"/>
<rect x="1119" y="1201" width="1" height="2" fill="#c4c4c4" shape-rendering="crispEdges"/>
<rect x="1139" y="1198" width="1" height="5" fill="#1a1a1a" shape-rendering="crispEdges"/>
<text x="98.80" y="1029.40" font-size="11.6" text-anchor="end" textLength="38.27" lengthAdjust="spacingAndGlyphs" fill="#000">100.00</text>
<text x="98.80" y="1064.40" font-size="11.6" text-anchor="end" textLength="31.31" lengthAdjust="spacingAndGlyphs" fill="#000">80.00</text>
<text x="98.80" y="1099.40" font-size="11.6" text-anchor="end" textLength="31.31" lengthAdjust="spacingAndGlyphs" fill="#000">60.00</text>
<text x="98.80" y="1134.40" font-size="11.6" text-anchor="end" textLength="31.31" lengthAdjust="spacingAndGlyphs" fill="#000">40.00</text>
<text x="98.80" y="1169.40" font-size="11.6" text-anchor="end" textLength="31.31" lengthAdjust="spacingAndGlyphs" fill="#000">20.00</text>
<text x="98.80" y="1204.40" font-size="11.6" text-anchor="end" textLength="24.35" lengthAdjust="spacingAndGlyphs" fill="#000">0.00</text>
<text x="112.00" y="1213.30" font-size="11.6" text-anchor="middle" textLength="27.55" lengthAdjust="spacingAndGlyphs" fill="#000">3 Juil</text>
<text x="215.00" y="1213.30" font-size="11.6" text-anchor="middle" textLength="34.73" lengthAdjust="spacingAndGlyphs" fill="#000">10 Juil</text>
<text x="318.00" y="1213.30" font-size="11.6" text-anchor="middle" textLength="34.73" lengthAdjust="spacingAndGlyphs" fill="#000">17 Juil</text>
<text x="421.00" y="1213.30" font-size="11.6" text-anchor="middle" textLength="34.73" lengthAdjust="spacingAndGlyphs" fill="#000">24 Juil</text>
<text x="524.00" y="1213.30" font-size="11.6" text-anchor="middle" textLength="34.73" lengthAdjust="spacingAndGlyphs" fill="#000">31 Juil</text>
<text x="627.00" y="1213.30" font-size="11.6" text-anchor="middle" textLength="36.80" lengthAdjust="spacingAndGlyphs" fill="#000">7 Août</text>
<text x="730.00" y="1213.30" font-size="11.6" text-anchor="middle" textLength="43.98" lengthAdjust="spacingAndGlyphs" fill="#000">14 Août</text>
<text x="832.00" y="1213.30" font-size="11.6" text-anchor="middle" textLength="43.98" lengthAdjust="spacingAndGlyphs" fill="#000">21 Août</text>
<text x="935.00" y="1213.30" font-size="11.6" text-anchor="middle" textLength="43.98" lengthAdjust="spacingAndGlyphs" fill="#000">28 Août</text>
<text x="1038.00" y="1213.30" font-size="11.6" text-anchor="middle" textLength="36.50" lengthAdjust="spacingAndGlyphs" fill="#000">4 Sept</text>
<text x="1141.00" y="1213.30" font-size="11.6" text-anchor="middle" textLength="43.69" lengthAdjust="spacingAndGlyphs" fill="#000">11 Sept</text>
<text x="626.30" y="1227.00" font-size="11.6" text-anchor="middle" textLength="269.60" lengthAdjust="spacingAndGlyphs" fill="#000">Date (du 3 Juillet 2015 au 11 Septembre 2015)</text>
<text x="58.40" y="1110.30" font-size="11.6" text-anchor="middle" textLength="21.30" lengthAdjust="spacingAndGlyphs" fill="#000" transform="rotate(-90 58.40 1110.30)">RSI</text>
<text x="111.00" y="994.20" font-size="24.4" text-anchor="start" textLength="673.30" lengthAdjust="spacingAndGlyphs" fill="#000">Sodexo: graphique du RSI - RSI(14) - AnalyBourse.com</text>
<rect x="101" y="1350" width="1050" height="25" fill="#f9f9f9"/>
<rect x="101" y="1400" width="1050" height="25" fill="#f9f9f9"/>
<rect x="101" y="1450" width="1050" height="25" fill="#f9f9f9"/>
<line x1="100" x2="1151" y1="1325.5" y2="1325.5" stroke="#e7e7e7" stroke-dasharray="4 4" stroke-dashoffset="1" shape-rendering="crispEdges"/>
<line x1="100" x2="1151" y1="1350.5" y2="1350.5" stroke="#e7e7e7" stroke-dasharray="4 4" stroke-dashoffset="1" shape-rendering="crispEdges"/>
<line x1="100" x2="1151" y1="1375.5" y2="1375.5" stroke="#e7e7e7" stroke-dasharray="4 4" stroke-dashoffset="1" shape-rendering="crispEdges"/>
<line x1="100" x2="1151" y1="1400.5" y2="1400.5" stroke="#e7e7e7" stroke-dasharray="4 4" stroke-dashoffset="1" shape-rendering="crispEdges"/>
<line x1="100" x2="1151" y1="1425.5" y2="1425.5" stroke="#e7e7e7" stroke-dasharray="4 4" stroke-dashoffset="1" shape-rendering="crispEdges"/>
<line x1="100" x2="1151" y1="1450.5" y2="1450.5" stroke="#e7e7e7" stroke-dasharray="4 4" stroke-dashoffset="1" shape-rendering="crispEdges"/>
<line x1="100" x2="1151" y1="1475.5" y2="1475.5" stroke="#e7e7e7" stroke-dasharray="4 4" stroke-dashoffset="1" shape-rendering="crispEdges"/>
<line x1="110.5" x2="110.5" y1="1325" y2="1500" stroke="#e4e4e4" stroke-dasharray="4 4" stroke-dashoffset="1" shape-rendering="crispEdges"/>
<line x1="130.5" x2="130.5" y1="1325" y2="1500" stroke="#f5f5f5" stroke-dasharray="4 4" stroke-dashoffset="1" shape-rendering="crispEdges"/>
<line x1="151.5" x2="151.5" y1="1325" y2="1500" stroke="#f5f5f5" stroke-dasharray="4 4" stroke-dashoffset="1" shape-rendering="crispEdges"/>
<line x1="172.5" x2="172.5" y1="1325" y2="1500" stroke="#f5f5f5" stroke-dasharray="4 4" stroke-dashoffset="1" shape-rendering="crispEdges"/>
<line x1="192.5" x2="192.5" y1="1325" y2="1500" stroke="#f5f5f5" stroke-dasharray="4 4" stroke-dashoffset="1" shape-rendering="crispEdges"/>
<line x1="213.5" x2="213.5" y1="1325" y2="1500" stroke="#e4e4e4" stroke-dasharray="4 4" stroke-dashoffset="1" shape-rendering="crispEdges"/>
<line x1="233.5" x2="233.5" y1="1325" y2="1500" stroke="#f5f5f5" stroke-dasharray="4 4" stroke-dashoffset="1" shape-rendering="crispEdges"/>
<line x1="254.5" x2="254.5" y1="1325" y2="1500" stroke="#f5f5f5" stroke-dasharray="4 4" stroke-dashoffset="1" shape-rendering="crispEdges"/>
<line x1="275.5" x2="275.5" y1="1325" y2="1500" stroke="#f5f5f5" stroke-dasharray="4 4" stroke-dashoffset="1" shape-rendering="crispEdges"/>
<line x1="295.5" x2="295.5" y1="1325" y2="1500" stroke="#f5f5f5" stroke-dasharray="4 4" stroke-dashoffset="1" shape-rendering="crispEdges"/>
<line x1="316.5" x2="316.5" y1="1325" y2="1500" stroke="#e4e4e4" stroke-dasharray="4 4" stroke-dashoffset="1" shape-rendering="crispEdges"/>
<line x1="336.5" x2="336.5" y1="1325" y2="1500" stroke="#f5f5f5" stroke-dasharray="4 4" stroke-dashoffset="1" shape-rendering="crispEdges"/>
<line x1="357.5" x2="357.5" y1="1325" y2="1500" stroke="#f5f5f5" stroke-dasharray="4 4" stroke-dashoffset="1" shape-rendering="crispEdges"/>
<line x1="377.5" x2="377.5" y1="1325" y2="1500" stroke="#f5f5f5" stroke-dasharray="4 4" stroke-dashoffset="1" shape-rendering="crispEdges"/>
<line x1="398.5" x2="398.5" y1="1325" y2="1500" stroke="#f5f5f5" stroke-dasharray="4 4" stroke-dashoffset="1" shape-rendering="crispEdges"/>
<line x1="419.5" x2="419.5" y1="1325" y2="1500" stroke="#e4e4e4" stroke-dasharray="4 4" stroke-dashoffset="1" shape-rendering="crispEdges"/>
<line x1="439.5" x2="439.5" y1="1325" y2="1500" stroke="#f5f5f5" stroke-dasharray="4 4" stroke-dashoffset="1" shape-rendering="crispEdges"/>
<line x1="460.5" x2="460.5" y1="1325" y2="1500" stroke="#f5f5f5" stroke-dasharray="4 4" stroke-dashoffset="1" shape-rendering="crispEdges"/>
<line x1="480.5" x2="480.5" y1="1325" y2="1500" stroke="#f5f5f5" stroke-dasharray="4 4" stroke-dashoffset="1" shape-rendering="crispEdges"/>
<line x1="501.5" x2="501.5" y1="1325" y2="1500" stroke="#f5f5f5" stroke-dasharray="4 4" stroke-dashoffset="1" shape-rendering="crispEdges"/>
<line x1="522.5" x2="522.5" y1="1325" y2="1500" stroke="#e4e4e4" stroke-dasharray="4 4" stroke-dashoffset="1" shape-rendering="crispEdges"/>
<line x1="542.5" x2="542.5" y1="1325" y2="1500" stroke="#f5f5f5" stroke-dasharray="4 4" stroke-dashoffset="1" shape-rendering="crispEdges"/>
<line x1="563.5" x2="563.5" y1="1325" y2="1500" stroke="#f5f5f5" stroke-dasharray="4 4" stroke-dashoffset="1" shape-rendering="crispEdges"/>
<line x1="583.5" x2="583.5" y1="1325" y2="1500" stroke="#f5f5f5" stroke-dasharray="4 4" stroke-dashoffset="1" shape-rendering="crispEdges"/>
<line x1="604.5" x2="604.5" y1="1325" y2="1500" stroke="#f5f5f5" stroke-dasharray="4 4" stroke-dashoffset="1" shape-rendering="crispEdges"/>
<line x1="625.5" x2="625.5" y1="1325" y2="1500" stroke="#e4e4e4" stroke-dasharray="4 4" stroke-dashoffset="1" shape-rendering="crispEdges"/>
<line x1="645.5" x2="645.5" y1="1325" y2="1500" stroke="#f5f5f5" stroke-dasharray="4 4" stroke-dashoffset="1" shape-rendering="crispEdges"/>
<line x1="666.5" x2="666.5" y1="1325" y2="1500" stroke="#f5f5f5" stroke-dasharray="4 4" stroke-dashoffset="1" shape-rendering="crispEdges"/>
<line x1="686.5" x2="686.5" y1="1325" y2="1500" stroke="#f5f5f5" stroke-dasharray="4 4" stroke-dashoffset="1" shape-rendering="crispEdges"/>
<line x1="707.5" x2="707.5" y1="1325" y2="1500" stroke="#f5f5f5" stroke-dasharray="4 4" stroke-dashoffset="1" shape-rendering="crispEdges"/>
<line x1="728.5" x2="728.5" y1="1325" y2="1500" stroke="#e4e4e4" stroke-dasharray="4 4" stroke-dashoffset="1" shape-rendering="crispEdges"/>
<line x1="748.5" x2="748.5" y1="1325" y2="1500" stroke="#f5f5f5" stroke-dasharray="4 4" stroke-dashoffset="1" shape-rendering="crispEdges"/>
<line x1="769.5" x2="769.5" y1="1325" y2="1500" stroke="#f5f5f5" stroke-dasharray="4 4" stroke-dashoffset="1" shape-rendering="crispEdges"/>
<line x1="789.5" x2="789.5" y1="1325" y2="1500" stroke="#f5f5f5" stroke-dasharray="4 4" stroke-dashoffset="1" shape-rendering="crispEdges"/>
<line x1="810.5" x2="810.5" y1="1325" y2="1500" stroke="#f5f5f5" stroke-dasharray="4 4" stroke-dashoffset="1" shape-rendering="crispEdges"/>
<line x1="830.5" x2="830.5" y1="1325" y2="1500" stroke="#e4e4e4" stroke-dasharray="4 4" stroke-dashoffset="1" shape-rendering="crispEdges"/>
<line x1="851.5" x2="851.5" y1="1325" y2="1500" stroke="#f5f5f5" stroke-dasharray="4 4" stroke-dashoffset="1" shape-rendering="crispEdges"/>
<line x1="872.5" x2="872.5" y1="1325" y2="1500" stroke="#f5f5f5" stroke-dasharray="4 4" stroke-dashoffset="1" shape-rendering="crispEdges"/>
<line x1="892.5" x2="892.5" y1="1325" y2="1500" stroke="#f5f5f5" stroke-dasharray="4 4" stroke-dashoffset="1" shape-rendering="crispEdges"/>
<line x1="913.5" x2="913.5" y1="1325" y2="1500" stroke="#f5f5f5" stroke-dasharray="4 4" stroke-dashoffset="1" shape-rendering="crispEdges"/>
<line x1="933.5" x2="933.5" y1="1325" y2="1500" stroke="#e4e4e4" stroke-dasharray="4 4" stroke-dashoffset="1" shape-rendering="crispEdges"/>
<line x1="954.5" x2="954.5" y1="1325" y2="1500" stroke="#f5f5f5" stroke-dasharray="4 4" stroke-dashoffset="1" shape-rendering="crispEdges"/>
<line x1="975.5" x2="975.5" y1="1325" y2="1500" stroke="#f5f5f5" stroke-dasharray="4 4" stroke-dashoffset="1" shape-rendering="crispEdges"/>
<line x1="995.5" x2="995.5" y1="1325" y2="1500" stroke="#f5f5f5" stroke-dasharray="4 4" stroke-dashoffset="1" shape-rendering="crispEdges"/>
<line x1="1016.5" x2="1016.5" y1="1325" y2="1500" stroke="#f5f5f5" stroke-dasharray="4 4" stroke-dashoffset="1" shape-rendering="crispEdges"/>
<line x1="1036.5" x2="1036.5" y1="1325" y2="1500" stroke="#e4e4e4" stroke-dasharray="4 4" stroke-dashoffset="1" shape-rendering="crispEdges"/>
<line x1="1057.5" x2="1057.5" y1="1325" y2="1500" stroke="#f5f5f5" stroke-dasharray="4 4" stroke-dashoffset="1" shape-rendering="crispEdges"/>
<line x1="1078.5" x2="1078.5" y1="1325" y2="1500" stroke="#f5f5f5" stroke-dasharray="4 4" stroke-dashoffset="1" shape-rendering="crispEdges"/>
<line x1="1098.5" x2="1098.5" y1="1325" y2="1500" stroke="#f5f5f5" stroke-dasharray="4 4" stroke-dashoffset="1" shape-rendering="crispEdges"/>
<line x1="1119.5" x2="1119.5" y1="1325" y2="1500" stroke="#f5f5f5" stroke-dasharray="4 4" stroke-dashoffset="1" shape-rendering="crispEdges"/>
<line x1="1139.5" x2="1139.5" y1="1325" y2="1500" stroke="#e4e4e4" stroke-dasharray="4 4" stroke-dashoffset="1" shape-rendering="crispEdges"/>
<clipPath id="cpos"><rect x="100" y="1300" width="1060" height="100.5"/></clipPath>
<clipPath id="cneg"><rect x="100" y="1400.5" width="1060" height="110"/></clipPath>
<path d="M110.5 1453.0 C113.9 1452.9 124.2 1452.6 131.1 1452.3 C138.0 1452.0 144.8 1451.9 151.7 1451.0 C158.5 1450.1 165.4 1449.0 172.3 1446.7 C179.1 1444.4 186.0 1441.9 192.9 1437.0 C199.7 1432.1 206.6 1425.0 213.4 1417.5 C220.3 1410.0 227.2 1399.0 234.0 1391.7 C240.9 1384.4 247.8 1378.7 254.6 1373.7 C261.5 1368.7 268.4 1366.1 275.2 1361.7 C282.1 1357.3 288.9 1351.3 295.8 1347.2 C302.7 1343.1 309.5 1339.5 316.4 1337.3 C323.3 1335.1 330.1 1333.5 337.0 1334.0 C343.9 1334.5 350.7 1337.4 357.6 1340.3 C364.4 1343.2 371.3 1348.0 378.2 1351.6 C385.0 1355.1 391.9 1358.2 398.8 1361.6 C405.6 1365.0 412.5 1366.8 419.4 1372.2 C426.2 1377.6 433.1 1389.2 439.9 1394.0 C446.8 1398.8 453.7 1398.8 460.5 1401.0 C467.4 1403.2 474.3 1405.0 481.1 1407.0 C488.0 1409.0 494.8 1411.1 501.7 1412.7 C508.6 1414.3 515.4 1416.1 522.3 1416.7 C529.2 1417.3 536.0 1417.1 542.9 1416.3 C549.8 1415.5 556.6 1413.4 563.5 1411.7 C570.3 1410.0 577.2 1407.4 584.1 1406.0 C590.9 1404.6 597.8 1404.0 604.7 1403.3 C611.5 1402.6 618.4 1402.8 625.2 1402.0 C632.1 1401.2 639.0 1398.2 645.8 1398.3 C652.7 1398.3 659.6 1399.8 666.4 1402.3 C673.3 1404.8 680.2 1411.9 687.0 1413.3 C693.9 1414.7 700.7 1411.9 707.6 1410.7 C714.5 1409.5 721.3 1407.6 728.2 1406.0 C735.1 1404.4 741.9 1402.6 748.8 1401.3 C755.7 1400.0 762.5 1398.1 769.4 1398.3 C776.2 1398.5 783.1 1400.4 790.0 1402.6 C796.8 1404.8 803.7 1406.0 810.6 1411.7 C817.4 1417.4 824.3 1427.9 831.1 1436.7 C838.0 1445.5 844.9 1460.3 851.7 1464.3 C858.6 1468.3 865.5 1458.9 872.3 1460.7 C879.2 1462.5 886.1 1474.5 892.9 1475.0 C899.8 1475.5 906.6 1467.0 913.5 1464.0 C920.4 1461.0 927.2 1459.5 934.1 1457.3 C941.0 1455.1 947.8 1452.0 954.7 1451.0 C961.6 1450.0 968.4 1451.8 975.3 1451.0 C982.1 1450.2 989.0 1448.8 995.9 1446.0 C1002.7 1443.2 1009.6 1435.8 1016.5 1434.0 C1023.3 1432.2 1030.2 1436.0 1037.0 1435.3 C1043.9 1434.6 1050.8 1432.8 1057.6 1430.0 C1064.5 1427.2 1071.4 1423.8 1078.2 1418.3 C1085.1 1412.8 1092.0 1401.3 1098.8 1397.3 C1105.7 1393.3 1112.5 1393.7 1119.4 1394.3 C1126.3 1394.9 1136.6 1399.9 1140.0 1401.0 L1140.0 1400.5 L110.5 1400.5 Z" fill="rgba(252,0,0,0.43)" clip-path="url(#cneg)"/>
<path d="M110.5 1453.0 C113.9 1452.9 124.2 1452.6 131.1 1452.3 C138.0 1452.0 144.8 1451.9 151.7 1451.0 C158.5 1450.1 165.4 1449.0 172.3 1446.7 C179.1 1444.4 186.0 1441.9 192.9 1437.0 C199.7 1432.1 206.6 1425.0 213.4 1417.5 C220.3 1410.0 227.2 1399.0 234.0 1391.7 C240.9 1384.4 247.8 1378.7 254.6 1373.7 C261.5 1368.7 268.4 1366.1 275.2 1361.7 C282.1 1357.3 288.9 1351.3 295.8 1347.2 C302.7 1343.1 309.5 1339.5 316.4 1337.3 C323.3 1335.1 330.1 1333.5 337.0 1334.0 C343.9 1334.5 350.7 1337.4 357.6 1340.3 C364.4 1343.2 371.3 1348.0 378.2 1351.6 C385.0 1355.1 391.9 1358.2 398.8 1361.6 C405.6 1365.0 412.5 1366.8 419.4 1372.2 C426.2 1377.6 433.1 1389.2 439.9 1394.0 C446.8 1398.8 453.7 1398.8 460.5 1401.0 C467.4 1403.2 474.3 1405.0 481.1 1407.0 C488.0 1409.0 494.8 1411.1 501.7 1412.7 C508.6 1414.3 515.4 1416.1 522.3 1416.7 C529.2 1417.3 536.0 1417.1 542.9 1416.3 C549.8 1415.5 556.6 1413.4 563.5 1411.7 C570.3 1410.0 577.2 1407.4 584.1 1406.0 C590.9 1404.6 597.8 1404.0 604.7 1403.3 C611.5 1402.6 618.4 1402.8 625.2 1402.0 C632.1 1401.2 639.0 1398.2 645.8 1398.3 C652.7 1398.3 659.6 1399.8 666.4 1402.3 C673.3 1404.8 680.2 1411.9 687.0 1413.3 C693.9 1414.7 700.7 1411.9 707.6 1410.7 C714.5 1409.5 721.3 1407.6 728.2 1406.0 C735.1 1404.4 741.9 1402.6 748.8 1401.3 C755.7 1400.0 762.5 1398.1 769.4 1398.3 C776.2 1398.5 783.1 1400.4 790.0 1402.6 C796.8 1404.8 803.7 1406.0 810.6 1411.7 C817.4 1417.4 824.3 1427.9 831.1 1436.7 C838.0 1445.5 844.9 1460.3 851.7 1464.3 C858.6 1468.3 865.5 1458.9 872.3 1460.7 C879.2 1462.5 886.1 1474.5 892.9 1475.0 C899.8 1475.5 906.6 1467.0 913.5 1464.0 C920.4 1461.0 927.2 1459.5 934.1 1457.3 C941.0 1455.1 947.8 1452.0 954.7 1451.0 C961.6 1450.0 968.4 1451.8 975.3 1451.0 C982.1 1450.2 989.0 1448.8 995.9 1446.0 C1002.7 1443.2 1009.6 1435.8 1016.5 1434.0 C1023.3 1432.2 1030.2 1436.0 1037.0 1435.3 C1043.9 1434.6 1050.8 1432.8 1057.6 1430.0 C1064.5 1427.2 1071.4 1423.8 1078.2 1418.3 C1085.1 1412.8 1092.0 1401.3 1098.8 1397.3 C1105.7 1393.3 1112.5 1393.7 1119.4 1394.3 C1126.3 1394.9 1136.6 1399.9 1140.0 1401.0 L1140.0 1400.5 L110.5 1400.5 Z" fill="rgba(0,252,0,0.43)" clip-path="url(#cpos)"/>
<rect x="110" y="1400" width="1030" height="1" fill="#a4f4a0" shape-rendering="crispEdges"/>
<rect x="100" y="1320" width="1" height="181" fill="#1a1a1a" shape-rendering="crispEdges"/>
<path d="M100 1313h1v1h1v2h1v2h1v2h-7v-2h1v-2h1v-2h1z" fill="#000" shape-rendering="crispEdges"/>
<rect x="100" y="1500" width="1063" height="1" fill="#1a1a1a" shape-rendering="crispEdges"/>
<path d="M1162 1500v1h-1v1h-2v1h-2v1h-2v-7h2v1h2v1h2v1h1z" fill="#000" shape-rendering="crispEdges"/>
<rect x="98" y="1325" width="5" height="1" fill="#1a1a1a" shape-rendering="crispEdges"/>
<rect x="98" y="1337" width="2" height="1" fill="#ff0000" shape-rendering="crispEdges"/>
<rect x="98" y="1350" width="5" height="1" fill="#1a1a1a" shape-rendering="crispEdges"/>
<rect x="98" y="1362" width="2" height="1" fill="#ff0000" shape-rendering="crispEdges"/>
<rect x="98" y="1375" width="5" height="1" fill="#1a1a1a" shape-rendering="crispEdges"/>
<rect x="98" y="1387" width="2" height="1" fill="#ff0000" shape-rendering="crispEdges"/>
<rect x="98" y="1400" width="5" height="1" fill="#1a1a1a" shape-rendering="crispEdges"/>
<rect x="98" y="1412" width="2" height="1" fill="#ff0000" shape-rendering="crispEdges"/>
<rect x="98" y="1425" width="5" height="1" fill="#1a1a1a" shape-rendering="crispEdges"/>
<rect x="98" y="1437" width="2" height="1" fill="#ff0000" shape-rendering="crispEdges"/>
<rect x="98" y="1450" width="5" height="1" fill="#1a1a1a" shape-rendering="crispEdges"/>
<rect x="98" y="1462" width="2" height="1" fill="#ff0000" shape-rendering="crispEdges"/>
<rect x="98" y="1475" width="5" height="1" fill="#1a1a1a" shape-rendering="crispEdges"/>
<rect x="98" y="1487" width="2" height="1" fill="#ff0000" shape-rendering="crispEdges"/>
<rect x="98" y="1500" width="5" height="1" fill="#1a1a1a" shape-rendering="crispEdges"/>
<rect x="110" y="1498" width="1" height="5" fill="#1a1a1a" shape-rendering="crispEdges"/>
<rect x="130" y="1501" width="1" height="2" fill="#c4c4c4" shape-rendering="crispEdges"/>
<rect x="151" y="1501" width="1" height="2" fill="#c4c4c4" shape-rendering="crispEdges"/>
<rect x="172" y="1501" width="1" height="2" fill="#c4c4c4" shape-rendering="crispEdges"/>
<rect x="192" y="1501" width="1" height="2" fill="#c4c4c4" shape-rendering="crispEdges"/>
<rect x="213" y="1498" width="1" height="5" fill="#1a1a1a" shape-rendering="crispEdges"/>
<rect x="233" y="1501" width="1" height="2" fill="#c4c4c4" shape-rendering="crispEdges"/>
<rect x="254" y="1501" width="1" height="2" fill="#c4c4c4" shape-rendering="crispEdges"/>
<rect x="275" y="1501" width="1" height="2" fill="#c4c4c4" shape-rendering="crispEdges"/>
<rect x="295" y="1501" width="1" height="2" fill="#c4c4c4" shape-rendering="crispEdges"/>
<rect x="316" y="1498" width="1" height="5" fill="#1a1a1a" shape-rendering="crispEdges"/>
<rect x="336" y="1501" width="1" height="2" fill="#c4c4c4" shape-rendering="crispEdges"/>
<rect x="357" y="1501" width="1" height="2" fill="#c4c4c4" shape-rendering="crispEdges"/>
<rect x="377" y="1501" width="1" height="2" fill="#c4c4c4" shape-rendering="crispEdges"/>
<rect x="398" y="1501" width="1" height="2" fill="#c4c4c4" shape-rendering="crispEdges"/>
<rect x="419" y="1498" width="1" height="5" fill="#1a1a1a" shape-rendering="crispEdges"/>
<rect x="439" y="1501" width="1" height="2" fill="#c4c4c4" shape-rendering="crispEdges"/>
<rect x="460" y="1501" width="1" height="2" fill="#c4c4c4" shape-rendering="crispEdges"/>
<rect x="480" y="1501" width="1" height="2" fill="#c4c4c4" shape-rendering="crispEdges"/>
<rect x="501" y="1501" width="1" height="2" fill="#c4c4c4" shape-rendering="crispEdges"/>
<rect x="522" y="1498" width="1" height="5" fill="#1a1a1a" shape-rendering="crispEdges"/>
<rect x="542" y="1501" width="1" height="2" fill="#c4c4c4" shape-rendering="crispEdges"/>
<rect x="563" y="1501" width="1" height="2" fill="#c4c4c4" shape-rendering="crispEdges"/>
<rect x="583" y="1501" width="1" height="2" fill="#c4c4c4" shape-rendering="crispEdges"/>
<rect x="604" y="1501" width="1" height="2" fill="#c4c4c4" shape-rendering="crispEdges"/>
<rect x="625" y="1498" width="1" height="5" fill="#1a1a1a" shape-rendering="crispEdges"/>
<rect x="645" y="1501" width="1" height="2" fill="#c4c4c4" shape-rendering="crispEdges"/>
<rect x="666" y="1501" width="1" height="2" fill="#c4c4c4" shape-rendering="crispEdges"/>
<rect x="686" y="1501" width="1" height="2" fill="#c4c4c4" shape-rendering="crispEdges"/>
<rect x="707" y="1501" width="1" height="2" fill="#c4c4c4" shape-rendering="crispEdges"/>
<rect x="728" y="1498" width="1" height="5" fill="#1a1a1a" shape-rendering="crispEdges"/>
<rect x="748" y="1501" width="1" height="2" fill="#c4c4c4" shape-rendering="crispEdges"/>
<rect x="769" y="1501" width="1" height="2" fill="#c4c4c4" shape-rendering="crispEdges"/>
<rect x="789" y="1501" width="1" height="2" fill="#c4c4c4" shape-rendering="crispEdges"/>
<rect x="810" y="1501" width="1" height="2" fill="#c4c4c4" shape-rendering="crispEdges"/>
<rect x="830" y="1498" width="1" height="5" fill="#1a1a1a" shape-rendering="crispEdges"/>
<rect x="851" y="1501" width="1" height="2" fill="#c4c4c4" shape-rendering="crispEdges"/>
<rect x="872" y="1501" width="1" height="2" fill="#c4c4c4" shape-rendering="crispEdges"/>
<rect x="892" y="1501" width="1" height="2" fill="#c4c4c4" shape-rendering="crispEdges"/>
<rect x="913" y="1501" width="1" height="2" fill="#c4c4c4" shape-rendering="crispEdges"/>
<rect x="933" y="1498" width="1" height="5" fill="#1a1a1a" shape-rendering="crispEdges"/>
<rect x="954" y="1501" width="1" height="2" fill="#c4c4c4" shape-rendering="crispEdges"/>
<rect x="975" y="1501" width="1" height="2" fill="#c4c4c4" shape-rendering="crispEdges"/>
<rect x="995" y="1501" width="1" height="2" fill="#c4c4c4" shape-rendering="crispEdges"/>
<rect x="1016" y="1501" width="1" height="2" fill="#c4c4c4" shape-rendering="crispEdges"/>
<rect x="1036" y="1498" width="1" height="5" fill="#1a1a1a" shape-rendering="crispEdges"/>
<rect x="1057" y="1501" width="1" height="2" fill="#c4c4c4" shape-rendering="crispEdges"/>
<rect x="1078" y="1501" width="1" height="2" fill="#c4c4c4" shape-rendering="crispEdges"/>
<rect x="1098" y="1501" width="1" height="2" fill="#c4c4c4" shape-rendering="crispEdges"/>
<rect x="1119" y="1501" width="1" height="2" fill="#c4c4c4" shape-rendering="crispEdges"/>
<rect x="1139" y="1498" width="1" height="5" fill="#1a1a1a" shape-rendering="crispEdges"/>
<text x="98.80" y="1329.40" font-size="11.6" text-anchor="end" textLength="24.35" lengthAdjust="spacingAndGlyphs" fill="#000">0.60</text>
<text x="98.80" y="1354.40" font-size="11.6" text-anchor="end" textLength="24.35" lengthAdjust="spacingAndGlyphs" fill="#000">0.40</text>
<text x="98.80" y="1379.40" font-size="11.6" text-anchor="end" textLength="24.35" lengthAdjust="spacingAndGlyphs" fill="#000">0.20</text>
<text x="98.80" y="1404.40" font-size="11.6" text-anchor="end" textLength="24.35" lengthAdjust="spacingAndGlyphs" fill="#000">0.00</text>
<text x="98.80" y="1429.40" font-size="11.6" text-anchor="end" textLength="28.30" lengthAdjust="spacingAndGlyphs" fill="#000">-0.20</text>
<text x="98.80" y="1454.40" font-size="11.6" text-anchor="end" textLength="28.30" lengthAdjust="spacingAndGlyphs" fill="#000">-0.40</text>
<text x="98.80" y="1479.40" font-size="11.6" text-anchor="end" textLength="28.30" lengthAdjust="spacingAndGlyphs" fill="#000">-0.60</text>
<text x="98.80" y="1504.40" font-size="11.6" text-anchor="end" textLength="28.30" lengthAdjust="spacingAndGlyphs" fill="#000">-0.80</text>
<text x="112.00" y="1513.30" font-size="11.6" text-anchor="middle" textLength="27.55" lengthAdjust="spacingAndGlyphs" fill="#000">3 Juil</text>
<text x="215.00" y="1513.30" font-size="11.6" text-anchor="middle" textLength="34.73" lengthAdjust="spacingAndGlyphs" fill="#000">10 Juil</text>
<text x="318.00" y="1513.30" font-size="11.6" text-anchor="middle" textLength="34.73" lengthAdjust="spacingAndGlyphs" fill="#000">17 Juil</text>
<text x="421.00" y="1513.30" font-size="11.6" text-anchor="middle" textLength="34.73" lengthAdjust="spacingAndGlyphs" fill="#000">24 Juil</text>
<text x="524.00" y="1513.30" font-size="11.6" text-anchor="middle" textLength="34.73" lengthAdjust="spacingAndGlyphs" fill="#000">31 Juil</text>
<text x="627.00" y="1513.30" font-size="11.6" text-anchor="middle" textLength="36.80" lengthAdjust="spacingAndGlyphs" fill="#000">7 Août</text>
<text x="730.00" y="1513.30" font-size="11.6" text-anchor="middle" textLength="43.98" lengthAdjust="spacingAndGlyphs" fill="#000">14 Août</text>
<text x="832.00" y="1513.30" font-size="11.6" text-anchor="middle" textLength="43.98" lengthAdjust="spacingAndGlyphs" fill="#000">21 Août</text>
<text x="935.00" y="1513.30" font-size="11.6" text-anchor="middle" textLength="43.98" lengthAdjust="spacingAndGlyphs" fill="#000">28 Août</text>
<text x="1038.00" y="1513.30" font-size="11.6" text-anchor="middle" textLength="36.50" lengthAdjust="spacingAndGlyphs" fill="#000">4 Sept</text>
<text x="1141.00" y="1513.30" font-size="11.6" text-anchor="middle" textLength="43.69" lengthAdjust="spacingAndGlyphs" fill="#000">11 Sept</text>
<text x="626.30" y="1527.00" font-size="11.6" text-anchor="middle" textLength="269.60" lengthAdjust="spacingAndGlyphs" fill="#000">Date (du 3 Juillet 2015 au 11 Septembre 2015)</text>
<text x="67.30" y="1410.50" font-size="11.6" text-anchor="middle" textLength="35.40" lengthAdjust="spacingAndGlyphs" fill="#000" transform="rotate(-90 67.30 1410.50)">MACD</text>
<text x="111.00" y="1294.20" font-size="24.4" text-anchor="start" textLength="794.20" lengthAdjust="spacingAndGlyphs" fill="#000">Sodexo: graphique du MACD - MACD(12,26,9) - AnalyBourse.com</text>
</svg>
</body></html>
